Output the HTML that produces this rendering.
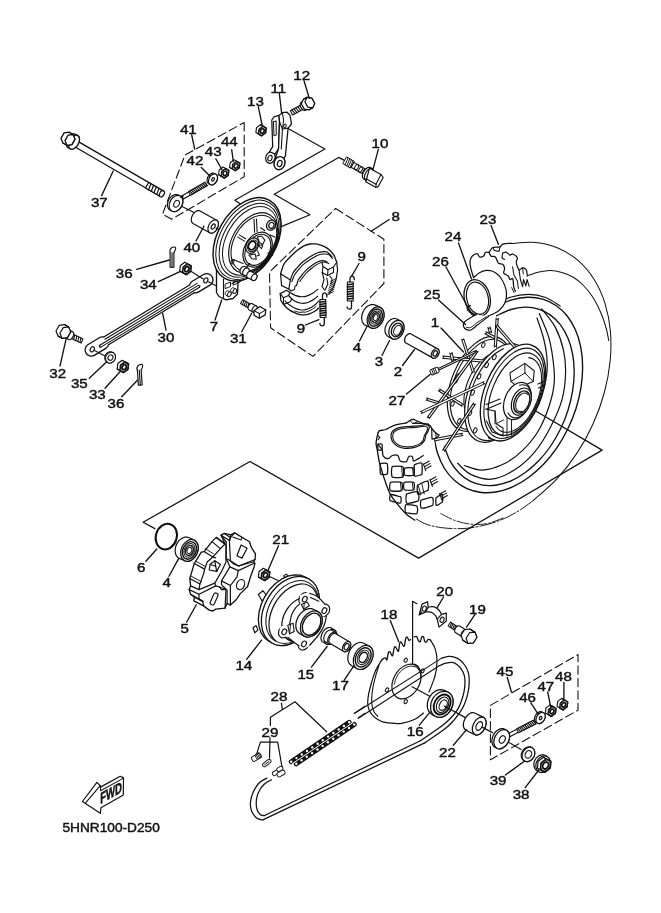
<!DOCTYPE html>
<html><head><meta charset="utf-8"><title>Rear wheel</title>
<style>html,body{margin:0;padding:0;background:#fff}body{width:661px;height:913px;overflow:hidden}svg{display:block}svg{will-change:transform}text{font-family:"Liberation Sans",sans-serif;fill:#111;stroke:#111;stroke-width:.42px}</style>
</head><body>
<svg width="661" height="913" viewBox="0 0 661 913" fill="none" stroke="#111" stroke-width="1.35" stroke-linecap="round" stroke-linejoin="round">
<path d="M244.2 122.5L244.2 176.7L171.7 219.2L162.5 214.2L185 155Z" stroke-width="1.08" stroke-dasharray="8.5 4"/>
<path d="M335.6 208.5L383.9 239.2L383.9 283.5L313 356.4L270.6 327.8L269.5 272Z" stroke-width="1.08" stroke-dasharray="8.5 4"/>
<path d="M490.4 705.4L578 654.5L578 710.2L490.4 759.8Z" stroke-width="1.08" stroke-dasharray="8.5 4"/>
<path d="M534 410L602.1 450.1L418.6 558.1L250 461.5L143.1 522.3L154.9 528.6" stroke-width="1.26"/>
<path d="M510.4 243.6C514.6 243.4 527.4 241.6 535.4 242.4C543.4 243.2 551.3 245.1 558.4 248.2C565.5 251.2 572.3 255.5 578.3 260.7C584.2 265.9 589.6 272.3 594 279.3C598.5 286.4 602.2 294.5 604.9 303.1C607.6 311.8 609.5 321.3 610.4 331C611.2 340.7 611.2 351.1 610.1 361.4C609.1 371.8 607.1 382.6 604.2 393C601.4 403.5 597.5 414.1 592.9 424.2C588.4 434.3 582.9 444.3 576.8 453.4C570.8 462.6 563.9 471.4 556.6 479.2C549.4 487.1 537.3 496.9 533.4 500.4" stroke-width="1.02"/>
<path d="M533.4 500.4C531.4 501.8 525.6 506.4 521.5 509C517.4 511.6 513.2 514.1 508.9 516.3C504.6 518.5 500 520.4 495.5 522C491 523.6 486.3 524.8 481.7 525.8C477.1 526.8 472.5 527.7 468 528.2C463.5 528.7 459.1 528.7 454.5 528.6C449.9 528.5 445.1 528.2 440.5 527.5C435.9 526.8 431.4 526 427.2 524.5C423 523 419.1 520.8 415.5 518.5C411.9 516.2 407.1 512.1 405.4 510.8" stroke-width="0.96" stroke-dasharray="16 2 2 2"/>
<path d="M440.8 513.6C443.2 514.8 450 518.7 455 520.5C460 522.3 465.7 523.7 471 524.2C476.3 524.7 481.7 524.6 487 523.6C492.3 522.6 500.3 518.9 503 518" stroke-width="0.90" stroke-dasharray="12 2 2 2"/>
<path d="M528 275.5C529.8 274.9 535.2 272.9 539 272C542.8 271.1 546.8 270.3 550.6 270.4C554.4 270.5 558.2 271.4 562 272.5C565.8 273.6 569.8 275.1 573.3 277.2C576.8 279.3 580 282 583 285C586 288 589 291.7 591.5 295.3C594 298.9 596.1 302.7 598 306.5C599.9 310.3 601.5 314.2 602.9 318C604.3 321.8 605.5 325.7 606.5 329.5C607.5 333.3 608.4 338.8 608.8 340.7" stroke-width="1.02"/>
<path d="M480.2 317.9C482.8 316.1 490.5 309.9 495.8 306.8C501 303.8 506.5 301.4 511.8 299.8C517.2 298.2 522.6 297.3 527.7 297.2C532.9 297.1 538 297.8 542.7 299.1C547.4 300.5 552 302.7 556 305.5C560.1 308.3 563.9 311.9 567.2 316C570.4 320.1 573.3 324.9 575.5 330.1C577.8 335.3 579.6 341.2 580.8 347.3C582 353.3 582.6 359.9 582.6 366.6C582.7 373.3 582.1 380.3 581 387.3C579.9 394.2 578.2 401.4 576.1 408.3C573.9 415.2 571.1 422.2 567.9 428.7C564.7 435.3 561 441.7 557 447.6C553 453.5 548.5 459.1 543.8 464C539.1 468.9 534 473.4 528.9 477.2C523.8 481 518.4 484.2 513.1 486.6C507.7 489.1 502.3 490.8 497 491.8C491.7 492.8 486.4 493 481.4 492.5C476.4 492 471.5 490.7 467 488.7C462.6 486.7 458.3 483.9 454.6 480.6C450.8 477.2 447.4 473.1 444.5 468.5C441.7 463.9 439.3 458.6 437.5 453C435.6 447.3 434.3 437.8 433.6 434.8" stroke-width="1.38"/>
<path d="M496.5 315.8C498.9 314.8 506.1 310.9 510.9 309.5C515.7 308 520.5 307.3 525.1 307.2C529.8 307.1 534.3 307.8 538.6 309.1C542.8 310.4 546.9 312.5 550.5 315.1C554.2 317.8 557.6 321.1 560.5 324.9C563.4 328.8 565.9 333.3 567.9 338.1C570 342.9 571.5 348.4 572.6 354C573.6 359.6 574.2 365.7 574.2 371.9C574.2 378 573.6 384.5 572.6 390.9C571.6 397.3 570 403.9 568 410.2C566 416.5 563.5 422.9 560.6 428.8C557.7 434.8 554.3 440.7 550.7 446C547 451.3 543 456.3 538.7 460.8C534.5 465.2 529.9 469.2 525.3 472.5C520.7 475.9 515.9 478.7 511.1 480.8C506.3 482.8 501.4 484.3 496.7 485C492 485.7 487.2 485.8 482.8 485.1C478.3 484.5 474 483.1 470 481.1C466.1 479.1 462.3 476.3 459 473C455.8 469.8 452.8 465.8 450.3 461.4C447.9 457.1 445.3 449.2 444.3 446.8" stroke-width="1.32"/>
<path d="M541.6 308.9C543.9 311.9 551.6 320.3 555.2 327.1C558.8 333.9 561.7 342.2 563.4 349.8C565.1 357.4 565.8 364.2 565.6 372.5C565.4 380.8 564.5 390.6 562 399.7C559.5 408.8 555.1 418.3 550.6 427C546.1 435.7 540.8 444.7 534.8 451.9C528.8 459.1 521.5 465.6 514.3 470.1C507.1 474.7 498.8 478.4 491.6 479.2C484.4 479.9 476.9 477.2 471.2 474.6C465.5 472 459.9 465.2 457.6 463.3" stroke-width="1.20"/>
<path d="M539.3 313.5C540.8 317.3 546.1 328.6 548.4 336.2C550.7 343.8 551.9 351.3 552.9 358.9C553.9 366.5 554.8 374 554.3 381.6C553.8 389.2 552.2 396.4 549.7 404.3C547.2 412.2 543.7 421.6 539.3 429.2C534.9 436.8 529.1 444 523.4 449.7C517.7 455.4 512 459.9 505.2 463.3C498.4 466.7 489.4 469.7 482.6 470.1C475.8 470.5 467.4 466.3 464.4 465.5" stroke-width="1.20"/>
<path d="M537 318C538.1 321.3 541.9 331.7 543.5 338C545.1 344.3 546.2 350.3 546.8 356C547.4 361.7 547.5 366.7 547 372C546.5 377.3 544.5 385.3 544 388" stroke-width="1.20"/>
<path d="M474.2 319.8C477.2 317.5 485.8 309.7 491.8 306C497.8 302.2 504.2 299.3 510.3 297.3C516.4 295.4 522.7 294.4 528.6 294.4C534.5 294.4 540.4 295.5 545.7 297.4C551 299.4 558 304.7 560.4 306.1" stroke-width="1.08"/>
<ellipse cx="479.4" cy="383.8" rx="50" ry="27.8" transform="rotate(-67.4 479.4 383.8)" stroke-width="1.20" fill="#fff"/>
<ellipse cx="480.6" cy="384.3" rx="47.5" ry="26.4" transform="rotate(-67.4 480.6 384.3)" stroke-width="1.08"/>
<ellipse cx="468.4" cy="424.7" rx="2.6" ry="1.5" transform="rotate(-67.4 468.4 424.7)" stroke-width="0.96"/>
<ellipse cx="459.3" cy="420.9" rx="2.6" ry="1.5" transform="rotate(-67.4 459.3 420.9)" stroke-width="0.96"/>
<ellipse cx="452.6" cy="403.7" rx="2.6" ry="1.5" transform="rotate(-67.4 452.6 403.7)" stroke-width="0.96"/>
<ellipse cx="455.9" cy="380.4" rx="2.6" ry="1.5" transform="rotate(-67.4 455.9 380.4)" stroke-width="0.96"/>
<ellipse cx="483.3" cy="345" rx="2.6" ry="1.5" transform="rotate(-67.4 483.3 345)" stroke-width="0.96"/>
<ellipse cx="456.6" cy="378.3" rx="5.5" ry="1.5" transform="rotate(-60 456.6 378.3)" stroke-width="0.96"/>
<ellipse cx="487" cy="387.5" rx="36" ry="20" transform="rotate(-67.4 487 387.5)" stroke-width="1.08" fill="#fff"/>
<path d="M461.7 339.3L472.5 372.9A1.1 1.1 0 0 1 474.5 372.3L463.7 338.7A1.1 1.1 0 0 1 461.7 339.3Z" fill="#fff" stroke-width="1.02"/>
<path d="M442.6 358.3L498.9 363.7A1.1 1.1 0 0 1 499.1 361.5L442.8 356.1A1.1 1.1 0 0 1 442.6 358.3Z" fill="#fff" stroke-width="1.02"/>
<path d="M449.8 353L451.8 361.3A1.1 1.1 0 0 1 454 360.7L452 352.4A1.1 1.1 0 0 1 449.8 353Z" fill="#fff" stroke-width="1.02"/>
<path d="M438.4 390.8L462.1 406.2A1.1 1.1 0 0 1 463.3 404.4L439.6 389A1.1 1.1 0 0 1 438.4 390.8Z" fill="#fff" stroke-width="1.02"/>
<path d="M426 400.1L440.6 404.6A1.1 1.1 0 0 1 441.2 402.4L426.6 397.9A1.1 1.1 0 0 1 426 400.1Z" fill="#fff" stroke-width="1.02"/>
<path d="M429.1 418.6L478.1 351.4A1.1 1.1 0 0 1 476.3 350.2L427.3 417.4A1.1 1.1 0 0 1 429.1 418.6Z" fill="#fff" stroke-width="1.02"/>
<path d="M484.8 333.7L496.7 340A1.1 1.1 0 0 1 497.7 338L485.8 331.7A1.1 1.1 0 0 1 484.8 333.7Z" fill="#fff" stroke-width="1.02"/>
<path d="M487.9 327.5L489.5 333.3A1.1 1.1 0 0 1 491.7 332.7L490.1 326.9A1.1 1.1 0 0 1 487.9 327.5Z" fill="#fff" stroke-width="1.02"/>
<path d="M496.1 318.1L494.2 347.1A1.1 1.1 0 0 1 496.4 347.3L498.3 318.3A1.1 1.1 0 0 1 496.1 318.1Z" fill="#fff" stroke-width="1.02"/>
<path d="M433.8 440.9L462.9 435.5A1.1 1.1 0 0 1 462.5 433.3L433.4 438.7A1.1 1.1 0 0 1 433.8 440.9Z" fill="#fff" stroke-width="1.02"/>
<ellipse cx="498" cy="393" rx="52" ry="28.9" transform="rotate(-67.4 498 393)" stroke-width="1.20" fill="#fff"/>
<path d="M531 379.9C530.7 381.5 530.2 386.4 529.5 389.7C528.7 393.1 527.7 396.5 526.6 399.8C525.4 403.1 524 406.4 522.4 409.5C520.9 412.6 519.1 415.7 517.2 418.5C515.4 421.3 513.3 424 511.3 426.4C509.2 428.8 506.9 430.9 504.7 432.8C502.5 434.6 500.2 436.2 498 437.4C495.7 438.6 493.4 439.4 491.3 439.9C489.1 440.5 486.9 440.6 484.9 440.4C483 440.2 481 439.6 479.3 438.7C477.6 437.8 475.9 436.6 474.6 435C473.2 433.4 471.9 431.5 471 429.4C470 427.2 469.2 424.8 468.7 422.1C468.2 419.5 467.9 416.6 467.8 413.6C467.8 410.5 467.9 407.3 468.4 404.1C468.8 400.8 469.5 397.4 470.4 394.1C471.3 390.8 472.4 387.4 473.7 384.1C475 380.9 476.5 377.6 478.2 374.6C479.9 371.5 481.7 368.6 483.7 365.9C485.6 363.2 487.7 360.7 489.9 358.5C492 356.3 494.3 354.3 496.5 352.7C498.8 351.1 502.2 349.4 503.3 348.7" stroke-width="1.08"/>
<ellipse cx="490.5" cy="436.2" rx="2.7" ry="1.6" transform="rotate(-67.4 490.5 436.2)" stroke-width="0.96"/>
<ellipse cx="475.2" cy="430.4" rx="2.7" ry="1.6" transform="rotate(-67.4 475.2 430.4)" stroke-width="0.96"/>
<ellipse cx="469.9" cy="413" rx="2.7" ry="1.6" transform="rotate(-67.4 469.9 413)" stroke-width="0.96"/>
<ellipse cx="472.6" cy="392.6" rx="2.7" ry="1.6" transform="rotate(-67.4 472.6 392.6)" stroke-width="0.96"/>
<ellipse cx="479.1" cy="376.5" rx="2.7" ry="1.6" transform="rotate(-67.4 479.1 376.5)" stroke-width="0.96"/>
<ellipse cx="486.6" cy="365.1" rx="2.7" ry="1.6" transform="rotate(-67.4 486.6 365.1)" stroke-width="0.96"/>
<ellipse cx="494.4" cy="357.2" rx="2.7" ry="1.6" transform="rotate(-67.4 494.4 357.2)" stroke-width="0.96"/>
<path d="M421.4 413.6L484.9 383.6A1.1 1.1 0 0 1 483.9 381.6L420.4 411.6A1.1 1.1 0 0 1 421.4 413.6Z" fill="#fff" stroke-width="1.02"/>
<path d="M444.5 451.3L475.4 404.1A1.1 1.1 0 0 1 473.6 402.9L442.7 450.1A1.1 1.1 0 0 1 444.5 451.3Z" fill="#fff" stroke-width="1.02"/>
<path d="M495.4 326.1L518.1 352.4A1.1 1.1 0 0 1 519.7 351L497 324.7A1.1 1.1 0 0 1 495.4 326.1Z" fill="#fff" stroke-width="1.02"/>
<path d="M436.4 371.3L475.8 352.5A0.9 0.9 0 0 1 475 350.9L435.6 369.7A0.9 0.9 0 0 1 436.4 371.3Z" fill="#fff" stroke-width="1.02"/>
<ellipse cx="513" cy="392.6" rx="51" ry="28.3" transform="rotate(-67.4 513 392.6)" stroke-width="1.32" fill="#fff"/>
<ellipse cx="514.2" cy="393.3" rx="47.6" ry="26.2" transform="rotate(-67.4 514.2 393.3)" stroke-width="1.08"/>
<ellipse cx="515.6" cy="394.2" rx="43.5" ry="23.6" transform="rotate(-67.4 515.6 394.2)" stroke-width="1.20"/>
<path d="M528.6 357.7C529.3 357.9 531.6 358.2 533 358.9C534.3 359.6 535.5 360.6 536.6 361.8C537.7 363 538.6 364.5 539.3 366.2C540.1 367.9 540.7 369.9 541 371.9C541.4 374 541.6 376.4 541.6 378.8C541.6 381.2 541.4 383.8 541.1 386.3C540.7 388.9 540.1 391.7 539.4 394.3C538.7 397 537.7 399.7 536.7 402.3C535.6 404.9 534.4 407.5 533.1 410C531.7 412.4 530.3 414.8 528.7 417C527.2 419.1 525.5 421.1 523.8 422.9C522.1 424.7 520.3 426.3 518.6 427.6C516.8 428.9 515 430 513.3 430.7C511.6 431.5 509.8 432 508.2 432.2C506.5 432.4 504.9 432.4 503.5 432C502 431.6 500.6 431 499.4 430.1C498.1 429.2 496.6 427.1 496.1 426.5" stroke-width="1.08"/>
<path d="M509.9 373L524.7 363.4L534.3 370.8L533.2 381.4L518.4 387.8L511 381.4Z" stroke-width="1.08"/>
<path d="M524.7 363.4L525 373" stroke-width="0.96"/>
<path d="M525 373L533.2 381.4" stroke-width="0.96"/>
<path d="M525 373L511 381.4" stroke-width="0.96"/>
<path d="M485.5 409L495 411L496.1 423.8L503 428L503 436L492 432L486.5 421" stroke-width="1.08"/>
<path d="M495 411L495 423.8" stroke-width="0.96"/>
<path d="M507 418L507 436" stroke-width="0.96"/>
<path d="M511.5 420.5L511.5 435" stroke-width="0.96"/>
<path d="M496.1 423.8L503.5 420" stroke-width="0.96"/>
<path d="M538 384L546 380.5" stroke-width="1.08"/>
<path d="M538.5 388L545 385.5" stroke-width="1.08"/>
<path d="M500 399L486 404.5" stroke-width="1.08"/>
<path d="M501 403L487 409" stroke-width="1.08"/>
<ellipse cx="517.3" cy="401" rx="19.5" ry="12.6" transform="rotate(-67.4 517.3 401)" stroke-width="1.20" fill="#fff"/>
<path d="M519.6 385.3C520 385.2 521.3 384.8 522.1 384.8C523 384.7 523.8 384.8 524.5 385C525.3 385.1 526 385.5 526.7 385.9C527.4 386.3 528 386.8 528.5 387.4C529.1 388.1 529.5 388.8 529.9 389.6C530.3 390.4 530.6 391.3 530.9 392.3C531.1 393.3 531.2 394.3 531.3 395.4C531.3 396.5 531.3 397.6 531.2 398.7C531 399.9 530.8 401 530.5 402.2C530.2 403.3 529.8 404.5 529.3 405.6C528.9 406.7 528.3 407.8 527.7 408.8C527.1 409.9 526.5 410.8 525.7 411.7C525 412.6 524.3 413.4 523.5 414.2C522.7 414.9 521.8 415.5 521 416C520.1 416.6 519.3 417 518.4 417.3C517.6 417.6 516.7 417.8 515.9 417.8C515 417.9 514.2 417.8 513.5 417.6C512.7 417.5 512 417.1 511.3 416.7C510.6 416.3 510 415.8 509.5 415.2C508.9 414.5 508.3 413.3 508.1 413" stroke-width="1.08"/>
<ellipse cx="521.3" cy="401.6" rx="14.2" ry="9.2" transform="rotate(-67.4 521.3 401.6)" stroke-width="1.20" fill="#fff"/>
<ellipse cx="521.8" cy="402" rx="11.6" ry="7.4" transform="rotate(-67.4 521.8 402)" stroke-width="1.44"/>
<path d="M521.9 411.3C521.7 411.3 521 411.6 520.5 411.6C520.1 411.7 519.6 411.6 519.2 411.5C518.8 411.4 518.4 411.3 518 411C517.7 410.8 517.4 410.5 517.1 410.2C516.8 409.8 516.5 409.4 516.3 408.9C516.1 408.5 516 407.9 515.9 407.4C515.8 406.8 515.7 406.3 515.7 405.6C515.7 405 515.7 404.4 515.8 403.7C515.9 403.1 516.1 402.4 516.2 401.8C516.4 401.1 516.7 400.5 516.9 399.8C517.2 399.2 517.5 398.6 517.9 398C518.2 397.4 518.6 396.9 519 396.4C519.4 395.9 519.8 395.4 520.3 395C520.7 394.6 521.2 394.2 521.7 393.9C522.1 393.6 522.6 393.4 523.1 393.2C523.5 393.1 524 393 524.5 393C524.9 392.9 525.3 393 525.7 393.1C526.2 393.2 526.5 393.4 526.9 393.7C527.2 393.9 527.7 394.4 527.8 394.6" stroke-width="1.08"/>
<path d="M473.6 277.7C473.1 276.1 471.5 271.3 470.9 268.6C470.3 265.8 469.8 263.4 470 261.3C470.2 259.3 470.9 257.5 472.1 256.2C473.4 255 476 253.6 477.2 253.7C478.4 253.8 478.4 256.6 479.4 257C480.5 257.3 482.6 256.7 483.6 255.9C484.6 255.1 484.7 252.8 485.6 252.2C486.5 251.6 487.8 253 489 252.2C490.2 251.4 491 248.4 492.8 247.5C494.7 246.6 498.2 247.4 499.9 246.8C501.6 246.2 501.2 244.5 503 243.9C504.8 243.3 509.5 243.3 510.8 243.2" stroke-width="1.26"/>
<path d="M489 252.2C489.4 252.9 490 255.4 491 256.2C492.1 257 494.2 255.8 495.4 257C496.6 258.1 497.1 261.9 498.3 263.1C499.5 264.3 501.6 263.3 502.7 264.2C503.7 265.1 504.5 267.1 504.6 268.6C504.8 270.1 503.2 271.9 503.7 273.1C504.3 274.3 507 274.8 508.1 275.8C509.2 276.9 509.3 279 510.1 279.5C510.9 280 512.2 277.5 512.8 278.7C513.4 280 513.3 284.6 513.7 286.7C514.1 288.8 515.1 290.7 515.4 291.4" stroke-width="1.26"/>
<path d="M492.8 247.5L494.3 250.4L499 251.5L499.9 246.8" stroke-width="1.08"/>
<path d="M502.7 253.1C503.3 253 505.1 251.9 506.3 252.2C507.5 252.6 508.8 254.8 509.9 255.1C511 255.4 511.6 253.6 512.8 254C514.1 254.5 516.8 256.5 517.4 257.9C517.9 259.3 516 260.4 516.3 262.4C516.5 264.4 517.9 268.8 519 269.7C520 270.6 521.4 267.8 522.6 267.8C523.8 267.8 525.5 268.3 526.3 269.7C527 271.1 527.2 275.1 527.3 276.2" stroke-width="1.20"/>
<path d="M502.7 253.1L501.9 257.7L504.5 259.5" stroke-width="1.08"/>
<path d="M519 269.7L520.4 279.5L522.6 286.7L523.5 279.5L525.9 286L527 279.5L529.2 286.4" stroke-width="1.08"/>
<path d="M512.6 266.8L513.9 274.9L517.5 281.3L518.3 288.5" stroke-width="1.02"/>
<path d="M522.6 267.8L523.3 274" stroke-width="0.96"/>
<path d="M511.7 287.6L513.9 292.5" stroke-width="0.96"/>
<path d="M473.6 277.6L479.5 272.8L486.3 270.4L492 271L497.2 274L501.5 279L504.5 284.9L506.3 291L506.3 297.6L505 302.5L502.6 306.7L499 310.5L494 313.5L488 316L480 316Z" fill="#fff" stroke="none"/>
<path d="M473.6 277.6C474.6 276.8 477.4 274 479.5 272.8C481.6 271.6 484.2 270.7 486.3 270.4C488.4 270.1 490.2 270.4 492 271C493.8 271.6 495.6 272.7 497.2 274C498.8 275.3 500.3 277.2 501.5 279C502.7 280.8 503.7 282.9 504.5 284.9C505.3 286.9 506 288.9 506.3 291C506.6 293.1 506.5 295.7 506.3 297.6C506.1 299.5 505.6 301 505 302.5C504.4 304 503.6 305.4 502.6 306.7C501.6 308 500.4 309.4 499 310.5C497.6 311.6 495.8 312.6 494 313.5C492.2 314.4 489 315.6 488 316" stroke-width="1.20"/>
<ellipse cx="477.2" cy="298" rx="12.8" ry="18.6" transform="rotate(-14 477.2 298)" stroke-width="1.26" fill="#fff"/>
<ellipse cx="477.5" cy="298.2" rx="10.7" ry="16.4" transform="rotate(-14 477.5 298.2)" stroke-width="1.20"/>
<path d="M470.5 305.5C470 305.8 468.1 306.2 467.6 307C467.2 307.8 467.2 309.6 467.8 310.5C468.4 311.4 470.1 311.8 471.5 312.5C472.9 313.2 474.4 314.2 476 315C477.6 315.8 480.2 317.1 481 317.5" stroke-width="1.20"/>
<path d="M469.5 312C470.1 312.6 471.5 314.4 473 315.5C474.5 316.6 477.6 318 478.5 318.5" stroke-width="1.08"/>
<path d="M488.5 316.5C486.8 317.8 480.8 322.3 478 324.5C475.2 326.7 473.4 328.9 471.5 329.8C469.6 330.7 467.9 330.2 466.5 329.6C465.1 329 463.7 327.3 463.4 326C463.1 324.7 463.4 323.3 464.5 322C465.6 320.7 468 319.2 470 318C472 316.8 475.4 315.1 476.5 314.5" stroke-width="1.20" fill="#fff"/>
<path d="M466.2 327.4C467 327.4 468.8 328.3 470.8 327.4C472.8 326.5 475.4 323.8 478 322C480.6 320.2 485.1 317.7 486.5 316.8" stroke-width="0.96"/>
<path d="M377.9 433.2L379.7 430.7L385.7 429.5L394.2 425.3L406.3 422.9L409.9 420.4L413.6 419.2L418.4 421.7L423.3 423.5L428.1 424.1L431.7 428.3L436 433.2L439.2 435L436 438.2L434.1 439.2L435.4 451.3L440.8 465.8L448.7 477.9L442.6 492.5L428.1 507L414.8 520.1L406.3 514.2L397.8 504.6L390.6 494.9L385.7 482.8L382.1 471.9L379.1 461L377.3 450.1L376.1 442.8Z" fill="#fff" stroke="none"/>
<path d="M377.9 433.2C378.2 432.8 378.4 431.3 379.7 430.7C381 430.1 383.3 430.4 385.7 429.5C388.2 428.6 390.8 426.4 394.2 425.3C397.6 424.2 404.3 423.3 406.3 422.9" stroke-width="1.32"/>
<path d="M406.3 422.9L409.9 420.4L413.6 419.2L418.4 421.7L423.3 423.5L428.1 424.1" stroke-width="1.26"/>
<path d="M428.1 424.1C428.5 424.4 429.7 425.2 430.3 425.9C430.9 426.6 431.1 427.5 431.7 428.3C432.3 429.2 433.2 430.2 433.9 431C434.6 431.8 435.6 432.8 436 433.2" stroke-width="1.32"/>
<path d="M436 433.2L439.2 435L436 438.2L432 439.2L431.7 428.3" stroke-width="1.20"/>
<path d="M436 433.2L436 438.2" stroke-width="1.08"/>
<path d="M409.9 420.4L412.6 423.5L418.4 421.7" stroke-width="0.96"/>
<path d="M412.6 423.5L423.3 423.5" stroke-width="0.96"/>
<path d="M391.2 434.4C391.5 433.2 391.7 431.8 393 430.7C394.3 429.6 396.4 428.4 399 427.7C401.7 427 405.5 426.8 408.7 426.5C412 426.2 415.6 426.2 418.4 425.9C421.2 425.6 423.9 424.6 425.7 424.7C427.5 424.8 428.9 425.5 429.3 426.5C429.7 427.5 428.9 429.3 428.3 430.7C427.8 432.1 426.6 433.4 425.9 435C425.3 436.6 425.3 438.8 424.5 440.4C423.6 442 422.6 443.4 420.8 444.7C419 445.9 416.2 447.1 413.6 447.7C410.9 448.3 407.7 448.5 405.1 448.3C402.5 448.1 399.9 447.5 397.8 446.5C395.8 445.5 394.1 443.6 393 442.2C391.9 440.8 391.5 439.3 391.2 438C390.9 436.7 390.9 435.6 391.2 434.4Z" stroke-width="1.20"/>
<path d="M392.9 434.7C393.1 433.6 393.3 432.5 394.5 431.5C395.7 430.6 397.6 429.5 400 428.9C402.4 428.3 405.9 428.1 408.8 427.8C411.8 427.6 415.1 427.6 417.6 427.3C420.2 427 422.6 426.2 424.3 426.3C425.9 426.3 427.2 427 427.6 427.8C428 428.7 427.2 430.3 426.7 431.5C426.2 432.7 425.1 433.8 424.5 435.2C423.9 436.6 423.9 438.5 423.2 439.9C422.4 441.3 421.5 442.6 419.9 443.6C418.2 444.7 415.6 445.7 413.2 446.3C410.9 446.8 407.9 447 405.5 446.8C403.1 446.6 400.8 446.1 398.9 445.2C397.1 444.3 395.5 442.8 394.5 441.5C393.5 440.3 393.1 439 392.9 437.8C392.6 436.7 392.6 435.7 392.9 434.7Z" stroke-width="1.08"/>
<path d="M377.9 444C378.6 445.1 381.2 448.1 382.1 450.1C383 452.1 382.3 454.7 383.3 456.1C384.3 457.6 386.6 458.7 388.2 458.6C389.7 458.5 390.8 456 392.4 455.5C394 455 396.5 454.6 397.8 455.5C399.1 456.5 398.8 460 400.3 461C401.7 462 404.9 462.3 406.3 461.6C407.7 460.9 407.7 457.6 408.7 456.8C409.7 455.9 411.6 456 412.4 456.8C413.2 457.5 412.6 460.7 413.6 461C414.6 461.3 416.8 459.5 418.4 458.6C420 457.7 422.4 456 423.3 455.5" stroke-width="1.26"/>
<path d="M377.9 433.2C377.6 434.8 376.2 440 376.1 442.8C376 445.7 376.8 447.1 377.3 450.1C377.8 453.1 378.3 457.4 379.1 461C379.9 464.6 381 468.3 382.1 471.9C383.2 475.5 384.3 478.9 385.7 482.8C387.1 486.6 388.6 491.2 390.6 494.9C392.6 498.5 395.2 501.3 397.8 504.6C400.5 507.8 403.5 511.7 406.3 514.2C409.1 516.8 413.4 519.1 414.8 520.1" stroke-width="1.32"/>
<path d="M377.9 435.6L379.9 437.5L377.9 439.8" stroke-width="1.08"/>
<path d="M378.5 444C379.1 443.9 380.9 443.9 381.5 444C382.1 444.2 382 444 382.1 444.9C382.2 445.8 382.2 448.4 382.1 449.3C382 450.1 382.1 450 381.5 450.1C380.9 450.2 379.1 450.2 378.5 450.1C377.9 450 378 450.1 377.9 449.3C377.8 448.4 377.8 445.8 377.9 444.9C378 444 377.9 444.2 378.5 444Z" stroke-width="1.26"/>
<path d="M381.3 463.4C382.3 463.2 385.5 463.2 386.5 463.4C387.6 463.7 387.4 463.4 387.5 464.9C387.7 466.5 387.7 471.2 387.5 472.8C387.4 474.3 387.6 474 386.5 474.3C385.5 474.6 382.3 474.6 381.3 474.3C380.3 474 380.5 474.3 380.3 472.8C380.1 471.2 380.1 466.5 380.3 464.9C380.5 463.4 380.3 463.7 381.3 463.4Z" stroke-width="1.26"/>
<path d="M391.5 494.5C393.1 494.7 397.8 496 399.3 496.5C400.9 496.9 400.6 496.4 400.9 497.4C401.1 498.3 401.1 501.2 400.9 502.2C400.6 503.1 400.9 503.3 399.3 503.1C397.8 502.9 393.1 501.7 391.5 501.2C389.9 500.7 390.2 501.2 390 500.2C389.7 499.3 389.7 496.4 390 495.4C390.2 494.5 389.9 494.3 391.5 494.5Z" stroke-width="1.26"/>
<path d="M393.4 466.4C395 466.2 400 466.2 401.7 466.4C403.3 466.7 403 466.4 403.3 468C403.6 469.5 403.6 474.2 403.3 475.8C403 477.4 403.3 477.1 401.7 477.3C400 477.6 395 477.6 393.4 477.3C391.7 477.1 392.1 477.4 391.8 475.8C391.5 474.2 391.5 469.5 391.8 468C392.1 466.4 391.7 466.7 393.4 466.4Z" stroke-width="1.26"/>
<path d="M405.8 467.9C407.2 467.7 411.4 467.7 412.8 467.9C414.2 468.1 413.9 467.9 414.2 469C414.4 470 414.4 473.4 414.2 474.4C413.9 475.5 414.2 475.3 412.8 475.5C411.4 475.7 407.2 475.7 405.8 475.5C404.5 475.3 404.7 475.5 404.5 474.4C404.3 473.4 404.3 470 404.5 469C404.7 467.9 404.5 468.1 405.8 467.9Z" stroke-width="1.26"/>
<path d="M415.3 464.4C416.4 463.9 419.8 462.9 420.9 462.9C422.1 463 421.9 462.9 422 464.6C422.2 466.3 422.2 471.4 422 473.1C421.9 474.8 422.1 474.3 420.9 474.8C419.8 475.3 416.4 476.3 415.3 476.2C414.1 476.2 414.4 476.3 414.2 474.6C414 472.9 414 467.7 414.2 466C414.4 464.3 414.1 464.9 415.3 464.4Z" stroke-width="1.26"/>
<path d="M391.7 482.2C393.4 482 398.6 482 400.4 482.2C402.1 482.4 401.8 482.1 402.1 483.4C402.4 484.7 402.4 488.5 402.1 489.8C401.8 491 402.1 490.8 400.4 491C398.6 491.2 393.4 491.2 391.7 491C389.9 490.8 390.3 491 390 489.8C389.7 488.5 389.7 484.7 390 483.4C390.3 482.1 389.9 482.4 391.7 482.2Z" stroke-width="1.26"/>
<path d="M405.3 482.2C406.8 482 411.3 482 412.7 482.2C414.2 482.4 413.9 482.1 414.2 483.3C414.4 484.4 414.4 487.8 414.2 488.9C413.9 490.1 414.2 489.9 412.7 490C411.3 490.2 406.8 490.2 405.3 490C403.9 489.9 404.1 490.1 403.9 488.9C403.6 487.8 403.6 484.4 403.9 483.3C404.1 482.1 403.9 482.4 405.3 482.2Z" stroke-width="1.26"/>
<path d="M419 484.5C420.5 483.7 425.2 481.4 426.8 481.1C428.4 480.7 428.1 481 428.3 482.4C428.6 483.8 428.6 488 428.3 489.4C428.1 490.8 428.4 490 426.8 490.8C425.2 491.6 420.5 493.8 419 494.2C417.4 494.5 417.7 494.2 417.4 492.8C417.2 491.4 417.2 487.2 417.4 485.8C417.7 484.4 417.4 485.3 419 484.5Z" stroke-width="1.26"/>
<path d="M408 493.7C409.8 493.1 415.2 491.8 416.9 491.7C418.7 491.6 418.4 491.7 418.7 493.1C418.9 494.5 418.9 498.7 418.7 500.1C418.4 501.4 418.7 500.9 416.9 501.4C415.2 502 409.8 503.3 408 503.4C406.3 503.4 406.6 503.4 406.3 502C406 500.6 406 496.4 406.3 495C406.6 493.6 406.3 494.2 408 493.7Z" stroke-width="1.26"/>
<path d="M422.5 499.7C424.3 499.1 429.5 497.5 431.2 497.3C433 497.1 432.7 497.3 432.9 498.5C433.2 499.7 433.2 503.4 432.9 504.6C432.7 505.8 433 505.2 431.2 505.8C429.5 506.4 424.3 508 422.5 508.2C420.8 508.4 421.1 508.2 420.8 507C420.5 505.8 420.5 502.1 420.8 500.9C421.1 499.7 420.8 500.3 422.5 499.7Z" stroke-width="1.26"/>
<path d="M407 504.7C408.7 504.7 413.8 505.3 415.5 505.7C417.2 506 416.9 505.6 417.2 506.8C417.5 507.9 417.5 511.5 417.2 512.6C416.9 513.8 417.2 513.7 415.5 513.8C413.8 513.8 408.7 513.1 407 512.8C405.3 512.4 405.6 512.8 405.3 511.7C405.1 510.5 405.1 507 405.3 505.8C405.6 504.7 405.3 504.7 407 504.7Z" stroke-width="1.26"/>
<path d="M436.9 497.3C437.8 496.6 440.7 494.7 441.7 494.4C442.6 494.1 442.5 494.4 442.6 495.5C442.8 496.7 442.8 500.2 442.6 501.4C442.5 502.5 442.6 501.8 441.7 502.5C440.7 503.2 437.8 505.1 436.9 505.4C435.9 505.7 436.1 505.4 436 504.3C435.8 503.1 435.8 499.6 436 498.4C436.1 497.3 435.9 498 436.9 497.3Z" stroke-width="1.26"/>
<path d="M401.7 467.3L402.4 477" stroke-width="0.96"/>
<path d="M412.6 468.3L413.3 475.3" stroke-width="0.96"/>
<path d="M400.5 482.8L401.2 490.3" stroke-width="0.96"/>
<path d="M412.4 482.8L413.1 489.6" stroke-width="0.96"/>
<path d="M418.4 485.8L420.8 494.9" stroke-width="0.96"/>
<path d="M422 484.6L424.2 493.9" stroke-width="0.96"/>
<path d="M423.3 463.8L425.8 470.8" stroke-width="1.02"/>
<path d="M423.6 464.3L429.3 461" stroke-width="1.02"/>
<path d="M424.5 466.7L430.2 463.4" stroke-width="1.02"/>
<path d="M425.4 469.1L431.1 465.8" stroke-width="1.02"/>
<path d="M429.9 479.5L432.4 486.5" stroke-width="1.02"/>
<path d="M430.2 480L435.9 476.7" stroke-width="1.02"/>
<path d="M431.1 482.4L436.8 479.1" stroke-width="1.02"/>
<path d="M432 484.8L437.7 481.5" stroke-width="1.02"/>
<path d="M439.6 493.5L442.1 500.5" stroke-width="1.02"/>
<path d="M439.9 494L445.6 490.7" stroke-width="1.02"/>
<path d="M440.8 496.4L446.5 493.1" stroke-width="1.02"/>
<path d="M441.7 498.8L447.4 495.5" stroke-width="1.02"/>
<path d="M70 144L160 196.3L163.2 190.9L73.2 138.6Z" stroke-width="1.32" fill="#fff"/>
<path d="M145.5 187.9L160 196.3L163.2 190.9L148.7 182.5Z" stroke-width="1.20" fill="#fff"/>
<path d="M148.6 189.7L150.9 183.8" stroke-width="1.20"/>
<path d="M151.3 191.3L153.6 185.3" stroke-width="1.20"/>
<path d="M154 192.8L156.3 186.9" stroke-width="1.20"/>
<path d="M156.7 194.4L159 188.4" stroke-width="1.20"/>
<path d="M159.4 195.9L161.7 190" stroke-width="1.20"/>
<ellipse cx="161.9" cy="193.8" rx="2.2" ry="3.4" transform="rotate(30 161.9 193.8)" stroke-width="1.20" fill="#fff"/>
<path d="M67.8 147.4L67 146.7L66.5 145.7L66.2 144.5L66.1 143.1L66.4 141.6L66.9 140L67.7 138.5L68.6 137.1L69.7 135.9L70.9 134.9L72.1 134.2L73.3 133.9L74.4 133.9L75.4 134.2L77.8 135.6L78.6 136.3L79.1 137.3L79.4 138.5L79.5 139.9L79.2 141.4L78.7 143L77.9 144.5L77 145.9L75.9 147.1L74.7 148.1L73.5 148.8L72.3 149.1L71.2 149.1L70.2 148.8Z" fill="#fff" stroke-width="1.32"/>
<ellipse cx="74" cy="142.2" rx="4.6" ry="7.6" transform="rotate(30 74 142.2)" stroke-width="1.32" fill="#fff"/>
<path d="M61 138.3L64.1 132.9L69.1 132.2L73.1 134.5L75 139.2L71.9 144.6L66.9 145.3L62.9 143Z" stroke-width="1.32" fill="#fff"/>
<path d="M71.9 144.6L66.9 145.3L65 140.6L68.1 135.2L73.1 134.5L75 139.2Z" stroke-width="1.32" fill="#fff"/>
<path d="M62.9 143L66.9 145.3" stroke-width="1.32"/>
<path d="M69.1 132.2L73.1 134.5" stroke-width="1.32"/>
<path d="M178 204.5L200 215.5" stroke-width="1.20"/>
<path d="M183.4 199.1L190.9 194.7L189.1 191.7L181.6 196.1Z" stroke-width="1.14" fill="#fff"/>
<path d="M190.5 195.3L207 185.8L205 182.2L188.5 191.7Z" stroke-width="1.14" fill="#fff"/>
<path d="M192.6 194.1L189.7 191" stroke-width="1.14"/>
<path d="M194.3 193.2L191.3 190" stroke-width="1.14"/>
<path d="M195.9 192.2L193 189.1" stroke-width="1.14"/>
<path d="M197.6 191.3L194.6 188.1" stroke-width="1.14"/>
<path d="M199.2 190.3L196.3 187.2" stroke-width="1.14"/>
<path d="M200.9 189.4L197.9 186.2" stroke-width="1.14"/>
<path d="M202.5 188.4L199.5 185.3" stroke-width="1.14"/>
<path d="M204.2 187.5L201.2 184.3" stroke-width="1.14"/>
<path d="M205.8 186.5L202.8 183.4" stroke-width="1.14"/>
<path d="M207.4 185.6L204.5 182.4" stroke-width="1.14"/>
<path d="M170 210L168.9 209.2L168.1 208L167.6 206.5L167.4 204.8L167.6 203L168.1 201.2L168.9 199.5L170 197.9L171.3 196.6L172.8 195.5L174.3 194.8L175.8 194.5L177.3 194.6L178.6 195.2L180.3 196.1L181.4 196.9L182.2 198.1L182.7 199.6L182.9 201.3L182.7 203.1L182.2 204.9L181.4 206.6L180.3 208.2L179 209.5L177.5 210.6L176 211.3L174.5 211.6L173 211.5L171.7 210.9Z" fill="#fff" stroke-width="1.20"/>
<ellipse cx="176" cy="203.5" rx="6.2" ry="8.6" transform="rotate(30 176 203.5)" stroke-width="1.20" fill="#fff"/>
<ellipse cx="176.6" cy="203.8" rx="2.6" ry="3.6" transform="rotate(30 176.6 203.8)" stroke-width="1.08"/>
<path d="M180.5 197.2L183.3 196.2" stroke-width="1.08"/>
<path d="M208.7 183.7L208 183.1L207.4 182.3L207.1 181.3L207.1 180.2L207.2 179L207.6 177.8L208.1 176.6L208.9 175.5L209.8 174.6L210.7 173.8L211.8 173.4L212.8 173.1L213.7 173.2L214.6 173.5L215.9 174.3L216.6 174.9L217.2 175.7L217.5 176.7L217.6 177.8L217.4 179L217 180.2L216.5 181.4L215.7 182.5L214.9 183.4L213.9 184.2L212.9 184.6L211.8 184.9L210.9 184.8L210.1 184.5Z" fill="#fff" stroke-width="1.20"/>
<ellipse cx="213" cy="179.4" rx="4" ry="5.9" transform="rotate(30 213 179.4)" stroke-width="1.20" fill="#fff"/>
<ellipse cx="213" cy="179.4" rx="1.2" ry="1.8" transform="rotate(30 213 179.4)" stroke-width="1.20"/>
<path d="M218.6 174.8L219.2 170L223.1 167L226.5 169L228.9 170.4L228.4 175.2L224.4 178.2L221.1 176.2Z" stroke-width="1.08" fill="#fff"/>
<path d="M228.4 175.2L224.4 178.2L221.1 176.2L221.6 171.4L225.6 168.4L228.9 170.4Z" stroke-width="1.08" fill="#fff"/>
<path d="M218.6 174.8L221.1 176.2" stroke-width="1.08"/>
<path d="M226.5 169L228.9 170.4" stroke-width="1.08"/>
<ellipse cx="225" cy="173.3" rx="3.1" ry="4.2" transform="rotate(30 225 173.3)" stroke-width="0.86"/>
<ellipse cx="225" cy="173.3" rx="1.8" ry="2.3" transform="rotate(30 225 173.3)" stroke-width="1.62"/>
<path d="M229.6 167.5L230.2 162.7L234.1 159.7L237.5 161.7L239.9 163.1L239.4 167.9L235.4 170.9L232.1 168.9Z" stroke-width="1.08" fill="#fff"/>
<path d="M239.4 167.9L235.4 170.9L232.1 168.9L232.6 164.1L236.6 161.1L239.9 163.1Z" stroke-width="1.08" fill="#fff"/>
<path d="M229.6 167.5L232.1 168.9" stroke-width="1.08"/>
<path d="M237.5 161.7L239.9 163.1" stroke-width="1.08"/>
<ellipse cx="236" cy="166" rx="3.1" ry="4.2" transform="rotate(30 236 166)" stroke-width="0.86"/>
<ellipse cx="236" cy="166" rx="1.8" ry="2.3" transform="rotate(30 236 166)" stroke-width="1.62"/>
<path d="M193 223.5L192.2 222.8L191.7 221.9L191.3 220.8L191.3 219.4L191.5 218L191.9 216.5L192.6 215L193.5 213.7L194.5 212.5L195.6 211.6L196.8 210.9L198 210.6L199 210.6L200 210.9L216.7 220.2L217.5 220.9L218 221.8L218.4 222.9L218.4 224.3L218.2 225.7L217.8 227.2L217.1 228.7L216.2 230L215.2 231.2L214.1 232.1L212.9 232.8L211.7 233.1L210.7 233.1L209.7 232.8Z" fill="#fff" stroke-width="1.20"/>
<ellipse cx="213.2" cy="226.5" rx="4.5" ry="7.2" transform="rotate(29.1 213.2 226.5)" stroke-width="1.20" fill="#fff"/>
<ellipse cx="213.2" cy="226.5" rx="1.7" ry="2.8" transform="rotate(29.1 213.2 226.5)" stroke-width="1.20"/>
<path d="M216 228L224 232.3" stroke-width="1.08"/>
<path d="M87.8 344.8L99.3 337.8A6.2 6.2 0 0 1 105.8 348.4L94.2 355.4A6.2 6.2 0 0 1 87.8 344.8Z" fill="#fff" stroke-width="1.32"/>
<path d="M192.3 281.3L203.9 274.3A6.2 6.2 0 0 1 210.3 284.9L198.8 291.9A6.2 6.2 0 0 1 192.3 281.3Z" fill="#fff" stroke-width="1.32"/>
<path d="M98.7 340.5L195.1 282L199.4 289.2L103 347.7Z" fill="#fff" stroke="none"/>
<path d="M103.8 337L189.6 285" stroke-width="1.32"/>
<path d="M108.5 344.7L194.3 292.7" stroke-width="1.32"/>
<path d="M104.9 339.3L197.1 283.4" stroke-width="1.08"/>
<path d="M99.8 345.2L198.3 285.4" stroke-width="1.08"/>
<path d="M100.9 347.1L199.5 287.3" stroke-width="1.08"/>
<path d="M99.8 345.2C99.7 345.5 99.1 346.5 99.3 346.8C99.5 347.1 100.6 347.1 100.9 347.1" stroke-width="1.08"/>
<path d="M198.3 285.4C198.6 285.5 199.7 285.4 199.9 285.7C200.1 286 199.5 287 199.5 287.3" stroke-width="1.08"/>
<ellipse cx="92.3" cy="349.3" rx="1.9" ry="2.7" transform="rotate(30 92.3 349.3)" stroke-width="1.14"/>
<ellipse cx="205.8" cy="280.4" rx="1.9" ry="2.7" transform="rotate(30 205.8 280.4)" stroke-width="1.14"/>
<path d="M94 350.3L105 356" stroke-width="1.08"/>
<path d="M190 270.8L203.3 279" stroke-width="1.08"/>
<path d="M179.7 271L180.4 265.5L184.8 262.2L188.7 264.4L191.3 265.9L190.6 271.4L186.2 274.7L182.3 272.5Z" stroke-width="1.20" fill="#fff"/>
<path d="M190.6 271.4L186.2 274.7L182.3 272.5L183 267L187.4 263.7L191.3 265.9Z" stroke-width="1.20" fill="#fff"/>
<path d="M179.7 271L182.3 272.5" stroke-width="1.20"/>
<path d="M188.7 264.4L191.3 265.9" stroke-width="1.20"/>
<ellipse cx="186.8" cy="269.2" rx="3.5" ry="4.7" transform="rotate(30 186.8 269.2)" stroke-width="0.96"/>
<ellipse cx="186.8" cy="269.2" rx="2" ry="2.7" transform="rotate(30 186.8 269.2)" stroke-width="1.80"/>
<path d="M170.1 252.1L170.1 267.2L173.9 267.2L173.9 252.1" fill="#fff" stroke-width="1.14"/>
<path d="M172 252.6L172 267.2" stroke-width="1.14"/>
<path d="M170.1 252.4C168.9 249.1 172.2 246.4 175.3 247.2C176.5 248.2 175.1 251 173.9 252.4" fill="#fff" stroke-width="1.14"/>
<g transform="rotate(-4 139.6 375)">
<path d="M137.7 369.5L137.7 385L141.5 385L141.5 369.5" fill="#fff" stroke-width="1.14"/>
<path d="M139.6 370L139.6 385" stroke-width="1.14"/>
<path d="M137.7 369.8C136.5 366.5 139.8 363.8 142.9 364.6C144.1 365.6 142.7 368.4 141.5 369.8" fill="#fff" stroke-width="1.14"/>
</g>
<path d="M69 337.4L81 343.1L83 338.9L71 333.2Z" stroke-width="1.08" fill="#fff"/>
<path d="M71.5 338.6L72.6 334" stroke-width="1.08"/>
<path d="M73.6 339.6L74.7 335" stroke-width="1.08"/>
<path d="M75.7 340.6L76.8 336" stroke-width="1.08"/>
<path d="M77.8 341.5L78.8 337" stroke-width="1.08"/>
<path d="M79.9 342.5L80.9 337.9" stroke-width="1.08"/>
<path d="M65.5 337.8L65 337.4L64.7 336.9L64.5 336.2L64.5 335.4L64.6 334.6L64.8 333.7L65.2 332.8L65.7 332L66.3 331.3L67 330.7L67.7 330.3L68.3 330.1L69 330L69.5 330.2L72.6 331.8L73.1 332.2L73.4 332.7L73.6 333.4L73.6 334.2L73.5 335L73.3 335.9L72.9 336.8L72.4 337.6L71.8 338.3L71.1 338.9L70.4 339.3L69.8 339.5L69.1 339.6L68.6 339.4Z" fill="#fff" stroke-width="1.08"/>
<ellipse cx="70.6" cy="335.6" rx="2.6" ry="4.3" transform="rotate(28 70.6 335.6)" stroke-width="1.08" fill="#fff"/>
<path d="M56 331L59.3 325.3L64.6 324.6L68.6 326.9L70.7 331.9L67.4 337.6L62 338.3L58 336Z" stroke-width="1.20" fill="#fff"/>
<path d="M67.4 337.6L62 338.3L59.9 333.3L63.2 327.6L68.6 326.9L70.7 331.9Z" stroke-width="1.20" fill="#fff"/>
<path d="M58 336L62 338.3" stroke-width="1.20"/>
<path d="M64.6 324.6L68.6 326.9" stroke-width="1.20"/>
<path d="M106.9 362L106.1 361.3L105.4 360.5L105 359.5L104.8 358.3L104.8 357.1L105.1 355.9L105.6 354.8L106.3 353.8L107.2 352.9L108.2 352.3L109.3 351.9L110.5 351.7L111.5 351.9L112.5 352.3L113.3 352.8L114.1 353.4L114.8 354.3L115.3 355.3L115.5 356.4L115.4 357.6L115.1 358.8L114.6 360L113.9 361L113 361.8L112 362.5L110.9 362.9L109.8 363L108.7 362.9L107.7 362.4Z" fill="#fff" stroke-width="1.08"/>
<ellipse cx="110.5" cy="357.6" rx="4.8" ry="5.6" transform="rotate(30 110.5 357.6)" stroke-width="1.08" fill="#fff"/>
<ellipse cx="110.5" cy="357.6" rx="2.4" ry="2.8" transform="rotate(30 110.5 357.6)" stroke-width="1.08"/>
<path d="M117.2 369L117.8 363.5L122.2 360.3L126 362.4L128.6 363.9L128 369.4L123.6 372.6L119.8 370.5Z" stroke-width="1.20" fill="#fff"/>
<path d="M128 369.4L123.6 372.6L119.8 370.5L120.4 365L124.8 361.8L128.6 363.9Z" stroke-width="1.20" fill="#fff"/>
<path d="M117.2 369L119.8 370.5" stroke-width="1.20"/>
<path d="M126 362.4L128.6 363.9" stroke-width="1.20"/>
<ellipse cx="124.2" cy="367.2" rx="3.5" ry="4.6" transform="rotate(30 124.2 367.2)" stroke-width="0.96"/>
<ellipse cx="124.2" cy="367.2" rx="2" ry="2.6" transform="rotate(30 124.2 367.2)" stroke-width="1.80"/>
<path d="M240.5 303.5L249.7 308.7L251.9 304.9L242.7 299.7Z" stroke-width="1.02" fill="#fff"/>
<path d="M242.6 304.7L243.9 300.4" stroke-width="1.02"/>
<path d="M244.3 305.6L245.6 301.3" stroke-width="1.02"/>
<path d="M245.9 306.6L247.2 302.2" stroke-width="1.02"/>
<path d="M247.6 307.5L248.9 303.2" stroke-width="1.02"/>
<path d="M249.2 308.4L250.5 304.1" stroke-width="1.02"/>
<path d="M248.8 309.7L248.5 309.4L248.2 309L248.1 308.4L248.1 307.8L248.2 307.1L248.4 306.4L248.8 305.6L249.2 305L249.7 304.4L250.3 304L250.8 303.7L251.4 303.5L251.9 303.5L252.3 303.7L256.3 306L256.7 306.3L257 306.7L257.1 307.3L257.1 307.9L257 308.6L256.8 309.3L256.4 310.1L256 310.7L255.5 311.3L254.9 311.7L254.4 312L253.8 312.2L253.3 312.2L252.8 312Z" fill="#fff" stroke-width="1.08"/>
<ellipse cx="254.6" cy="309" rx="2.1" ry="3.5" transform="rotate(30 254.6 309)" stroke-width="1.08" fill="#fff"/>
<path d="M254 310.7L259.9 306.6L265.8 309.9L265.2 314.9L259.2 318.2L254 315.2Z" stroke-width="1.20" fill="#fff"/>
<path d="M254 310.7L259.5 313.6L265.8 309.9" stroke-width="1.08"/>
<path d="M259.5 313.6L259.2 318.2" stroke-width="1.08"/>
<path d="M284 126.3L324.9 149.1L234.8 200.2L239.7 203.6" stroke-width="1.20"/>
<path d="M344.4 160.4L338.7 157.4L274.2 194.3L310 214.8L277 228.4" stroke-width="1.20"/>
<path d="M216.5 262L216.5 292.5L219 296.5L226 299.8L233 298.5L237.5 294L238 283L247 276L232 283.5" stroke-width="1.32" fill="#fff"/>
<path d="M223.5 279L223.5 297.5" stroke-width="1.08"/>
<path d="M225.5 284L230.5 282L230.5 286.5L225.5 288.5Z" stroke-width="0.96"/>
<path d="M234 281.5L238 279.5L237 283.5L233.5 285Z" stroke-width="0.96"/>
<path d="M225.9 295.1L225.6 294.9L225.4 294.6L225.2 294.2L225.1 293.7L225.2 293.2L225.3 292.7L225.5 292.2L225.8 291.8L226.1 291.4L226.5 291.1L226.9 290.9L227.4 290.7L227.8 290.8L228.1 290.9L230.4 292.1L230.7 292.3L230.9 292.6L231.1 293L231.2 293.5L231.1 294L231 294.5L230.8 295L230.5 295.4L230.2 295.8L229.8 296.1L229.4 296.3L228.9 296.5L228.5 296.4L228.2 296.3Z" fill="#fff" stroke-width="0.96"/>
<ellipse cx="229.3" cy="294.2" rx="1.7" ry="2.4" transform="rotate(27.6 229.3 294.2)" stroke-width="0.96" fill="#fff"/>
<path d="M231.4 292.1L231.1 291.9L230.9 291.6L230.7 291.2L230.6 290.7L230.7 290.2L230.8 289.7L231 289.2L231.3 288.8L231.6 288.4L232 288.1L232.4 287.9L232.9 287.7L233.3 287.8L233.6 287.9L235.9 289.1L236.2 289.3L236.4 289.6L236.6 290L236.7 290.5L236.6 291L236.5 291.5L236.3 292L236 292.4L235.7 292.8L235.3 293.1L234.9 293.3L234.4 293.5L234 293.4L233.7 293.3Z" fill="#fff" stroke-width="0.96"/>
<ellipse cx="234.8" cy="291.2" rx="1.7" ry="2.4" transform="rotate(27.6 234.8 291.2)" stroke-width="0.96" fill="#fff"/>
<ellipse cx="247.1" cy="239.3" rx="29.5" ry="45" transform="rotate(30 247.1 239.3)" stroke-width="1.44" fill="#fff"/>
<ellipse cx="248" cy="239.8" rx="27.8" ry="42.8" transform="rotate(30 248 239.8)" stroke-width="1.02"/>
<ellipse cx="249" cy="240.3" rx="25.6" ry="40" transform="rotate(30 249 240.3)" stroke-width="1.02"/>
<ellipse cx="250" cy="240.8" rx="23.4" ry="37.2" transform="rotate(30 250 240.8)" stroke-width="1.02"/>
<ellipse cx="253.4" cy="243" rx="21.5" ry="32.6" transform="rotate(30 253.4 243)" stroke-width="1.14"/>
<ellipse cx="253.9" cy="243.3" rx="19.9" ry="30.2" transform="rotate(30 253.9 243.3)" stroke-width="1.08"/>
<ellipse cx="257.6" cy="249.6" rx="13.1" ry="18.7" transform="rotate(30 257.6 249.6)" stroke-width="1.20"/>
<ellipse cx="257.8" cy="249.8" rx="11.6" ry="16.6" transform="rotate(30 257.8 249.8)" stroke-width="1.08"/>
<ellipse cx="252.3" cy="245.6" rx="5.9" ry="8.2" transform="rotate(30 252.3 245.6)" stroke-width="1.20" fill="#fff"/>
<ellipse cx="252.1" cy="245.5" rx="3.4" ry="4.5" transform="rotate(30 252.1 245.5)" stroke-width="1.80"/>
<ellipse cx="252.6" cy="245.8" rx="4.5" ry="6.3" transform="rotate(30 252.6 245.8)" stroke-width="0.96"/>
<path d="M257.4 237.1L261.6 236L264.8 240.2L262.7 244.5L259.5 242.4Z" stroke-width="1.08"/>
<path d="M257.4 244.5L262.7 245.5L261.6 248.7Z" stroke-width="1.02"/>
<path d="M248.9 255.1L255.2 254L256.3 259.3L252.1 258.8Z" stroke-width="1.08"/>
<path d="M257.4 250.8L259.5 255.1L256.8 256.1" stroke-width="1.02"/>
<path d="M237.8 237.1L244.4 241.1" stroke-width="1.08"/>
<path d="M239.1 234.9L245.7 238.8" stroke-width="1.08"/>
<path d="M254 219.1L254.6 232.3" stroke-width="1.08"/>
<path d="M256.5 219.1L257.1 231.8" stroke-width="1.08"/>
<path d="M260.5 227.7L264.8 230.5" stroke-width="1.08"/>
<path d="M270.1 234.9L274.9 237.1" stroke-width="1.08"/>
<path d="M267.9 252.9L272.7 255.3" stroke-width="1.08"/>
<path d="M232.5 259.3L243.1 263.5" stroke-width="1.08"/>
<path d="M245.7 267.8L249.9 263.5" stroke-width="1.08"/>
<path d="M264.8 260.9L261.6 264.6" stroke-width="1.08"/>
<ellipse cx="271.1" cy="225.2" rx="4.4" ry="5.2" transform="rotate(30 271.1 225.2)" stroke-width="1.26" fill="#fff"/>
<ellipse cx="271.4" cy="225.4" rx="2.5" ry="3" transform="rotate(30 271.4 225.4)" stroke-width="1.20"/>
<path d="M241.2 273.7L240.7 273.3L240.3 272.7L240.1 272L240 271.2L240.1 270.4L240.3 269.6L240.7 268.8L241.2 268L241.8 267.4L242.5 266.9L243.2 266.6L243.9 266.5L244.6 266.5L245.2 266.7L248 268.3L248.5 268.7L248.9 269.3L249.1 270L249.2 270.8L249.1 271.6L248.9 272.4L248.5 273.2L248 274L247.4 274.6L246.7 275.1L246 275.4L245.3 275.5L244.6 275.5L244 275.3Z" fill="#fff" stroke-width="1.14"/>
<ellipse cx="246" cy="271.8" rx="2.9" ry="4" transform="rotate(29.7 246 271.8)" stroke-width="1.14" fill="#fff"/>
<path d="M247.8 277.7L247.4 277.3L247 276.8L246.8 276.2L246.7 275.6L246.8 274.8L247 274.1L247.3 273.4L247.7 272.7L248.2 272.2L248.8 271.7L249.4 271.4L250.1 271.3L250.7 271.3L251.2 271.5L255.9 274.1L256.3 274.5L256.7 275L256.9 275.6L257 276.2L256.9 277L256.7 277.7L256.4 278.4L256 279.1L255.5 279.6L254.9 280.1L254.3 280.4L253.6 280.5L253 280.5L252.5 280.3Z" fill="#fff" stroke-width="1.14"/>
<ellipse cx="254.2" cy="277.2" rx="2.5" ry="3.5" transform="rotate(29 254.2 277.2)" stroke-width="1.14" fill="#fff"/>
<ellipse cx="232.5" cy="262" rx="1.4" ry="2" transform="rotate(30 232.5 262)" stroke-width="0.96"/>
<path d="M208.5 281.8L216.5 286" stroke-width="1.08"/>
<path d="M255.9 132.5L256.5 127.6L260.4 124.7L262.9 126.1L266.2 128.1L265.7 132.9L261.7 135.9Z" stroke-width="1.14" fill="#fff"/>
<path d="M265.7 132.9L261.7 135.9L258.4 133.9L258.9 129.1L262.9 126.1L266.2 128.1Z" stroke-width="1.14" fill="#fff"/>
<path d="M260.4 124.7L262.9 126.1" stroke-width="1.14"/>
<ellipse cx="262.3" cy="131" rx="3.1" ry="4.2" transform="rotate(30 262.3 131)" stroke-width="0.91"/>
<ellipse cx="262.3" cy="131" rx="1.8" ry="2.3" transform="rotate(30 262.3 131)" stroke-width="1.71"/>
<ellipse cx="270.4" cy="157.6" rx="4.6" ry="5.8" transform="rotate(18 270.4 157.6)" stroke-width="1.26" fill="#fff"/>
<path d="M271.8 120L274 116.8L279 115.4L279.5 121.8L278.6 148.5L275 154L269.5 151.7L272.7 146.7Z" stroke-width="1.26" fill="#fff"/>
<ellipse cx="270" cy="158.1" rx="2" ry="2.9" transform="rotate(18 270 158.1)" stroke-width="1.14"/>
<path d="M273.4 121.8L276.1 120.9L276.3 134.9L274 135.8Z" stroke-width="1.02"/>
<ellipse cx="279.5" cy="163.1" rx="5.3" ry="6.6" transform="rotate(18 279.5 163.1)" stroke-width="1.26" fill="#fff"/>
<path d="M279 115.4L282.4 112.7L287 112.2L289.9 115L291.5 124L288.1 128.1L285.4 155.8L284 158.1L275.6 157.2L278.6 148.5L279.5 121.8Z" stroke-width="1.26" fill="#fff"/>
<ellipse cx="279.5" cy="163.1" rx="5.3" ry="6.6" transform="rotate(18 279.5 163.1)" stroke-width="1.26" fill="#fff"/>
<ellipse cx="279.7" cy="163.5" rx="2.3" ry="3.1" transform="rotate(18 279.7 163.5)" stroke-width="1.20"/>
<path d="M279.5 121.8L282.4 129L288.1 128.1" stroke-width="1.08"/>
<path d="M282.4 129L281.3 149" stroke-width="1.08"/>
<path d="M282.4 112.7L283.6 120.6L282.4 129" stroke-width="1.02"/>
<ellipse cx="284.9" cy="125.9" rx="1.2" ry="1.7" transform="rotate(20 284.9 125.9)" stroke-width="1.02"/>
<path d="M292.6 114.9L304.1 108.7L301.9 104.5L290.4 110.7Z" stroke-width="1.08" fill="#fff"/>
<path d="M295 113.6L291.9 109.9" stroke-width="1.08"/>
<path d="M297 112.6L293.8 108.8" stroke-width="1.08"/>
<path d="M298.9 111.5L295.7 107.8" stroke-width="1.08"/>
<path d="M300.8 110.5L297.7 106.7" stroke-width="1.08"/>
<path d="M302.8 109.5L299.6 105.7" stroke-width="1.08"/>
<path d="M305.7 110.2L305.1 110.4L304.4 110.4L303.7 110.2L303 109.8L302.3 109.1L301.6 108.4L301.1 107.5L300.6 106.6L300.4 105.6L300.2 104.7L300.3 103.9L300.5 103.1L300.8 102.6L301.3 102.2L303.3 101.1L303.9 100.9L304.6 100.9L305.3 101.1L306 101.5L306.7 102.2L307.4 102.9L307.9 103.8L308.4 104.7L308.6 105.7L308.8 106.6L308.7 107.4L308.5 108.2L308.2 108.7L307.7 109.1Z" fill="#fff" stroke-width="1.08"/>
<ellipse cx="305.5" cy="105.1" rx="2.8" ry="4.6" transform="rotate(-28.8 305.5 105.1)" stroke-width="1.08" fill="#fff"/>
<path d="M301.4 103.8L303.4 99.3L306.9 97.4L311.8 98.1L314.7 103.3L312.7 107.8L309.2 109.8L304.3 109.1Z" stroke-width="1.20" fill="#fff"/>
<path d="M314.7 103.3L312.7 107.8L307.8 107.1L304.9 101.9L306.9 97.4L311.8 98.1Z" stroke-width="1.20" fill="#fff"/>
<path d="M309.2 109.8L312.7 107.8" stroke-width="1.20"/>
<path d="M303.4 99.3L306.9 97.4" stroke-width="1.20"/>
<path d="M343.1 163.7L350.6 168.1L354.4 161.5L346.9 157.1Z" stroke-width="0.96" fill="#fff"/>
<path d="M345.1 164.9L348.1 157.8" stroke-width="0.96"/>
<path d="M346.8 165.9L349.8 158.8" stroke-width="0.96"/>
<path d="M348.4 166.8L351.4 159.8" stroke-width="0.96"/>
<path d="M350.1 167.8L353 160.7" stroke-width="0.96"/>
<path d="M351.1 167.2L364.6 175L367.4 170.2L353.9 162.4Z" stroke-width="1.08" fill="#fff"/>
<ellipse cx="356.6" cy="167.1" rx="1.6" ry="3" transform="rotate(30 356.6 167.1)" stroke-width="0.96"/>
<ellipse cx="360.6" cy="169.5" rx="1.6" ry="3" transform="rotate(30 360.6 169.5)" stroke-width="0.96"/>
<ellipse cx="364.6" cy="171.8" rx="1.6" ry="3" transform="rotate(30 364.6 171.8)" stroke-width="0.96"/>
<path d="M363.6 178.9L363 178.3L362.6 177.5L362.4 176.5L362.4 175.3L362.7 174L363.2 172.6L363.9 171.3L364.7 170.1L365.7 169.1L366.7 168.2L367.7 167.6L368.7 167.3L369.6 167.3L370.4 167.5L372.4 168.7L373 169.3L373.4 170.1L373.6 171.1L373.6 172.3L373.3 173.6L372.8 175L372.1 176.3L371.3 177.5L370.3 178.5L369.3 179.4L368.3 180L367.3 180.3L366.4 180.3L365.6 180.1Z" fill="#fff" stroke-width="1.20"/>
<ellipse cx="369" cy="174.4" rx="3.6" ry="6.6" transform="rotate(31 369 174.4)" stroke-width="1.20" fill="#fff"/>
<path d="M369.5 168.2L381 174.5L383.2 177.5L378.2 186.5L376 187.5L365.8 181.8Z" stroke-width="1.20" fill="#fff"/>
<path d="M381 174.5L376 184.2" stroke-width="1.08"/>
<path d="M376 184.2L376 187.5" stroke-width="0.96"/>
<path d="M376 184.2L366 178.8" stroke-width="1.08"/>
<path d="M280.6 273.8L284 264L290.4 256.8L297 250.5L304 245.9L310 244L314.9 243.9L320 244.8L324.5 246.6L330 250.5L334 255.4L336.7 262.2L336.7 280L322 285L296 292L281.6 286Z" fill="#fff" stroke="none"/>
<path d="M280.6 273.8C281.2 272.2 282.4 266.8 284 264C285.6 261.2 288.2 259.1 290.4 256.8C292.6 254.6 294.7 252.3 297 250.5C299.3 248.7 301.8 247 304 245.9C306.2 244.8 308.2 244.3 310 244C311.8 243.7 313.2 243.8 314.9 243.9C316.6 244 318.4 244.4 320 244.8C321.6 245.2 322.8 245.7 324.5 246.6C326.2 247.5 328.4 249 330 250.5C331.6 252 332.9 253.5 334 255.4C335.1 257.4 336.2 261.1 336.7 262.2" stroke-width="1.32"/>
<path d="M290.4 280C290.8 278.8 291.9 275.1 293 273C294.1 270.9 295.7 269.4 297.2 267.7C298.7 265.9 300.2 264.1 302 262.5C303.8 260.9 306.3 259.4 308.1 258.1C309.9 256.9 311.4 255.9 313 255C314.6 254.1 316.1 253.2 317.7 252.7C319.3 252.2 320.9 251.9 322.5 251.8C324.1 251.7 325.6 251.2 327.2 252C328.8 252.8 331.2 256 332 256.8" stroke-width="1.20"/>
<path d="M280.6 273.8L281.6 285.6L288.8 289L290.4 280L280.6 273.8" stroke-width="1.20"/>
<path d="M291.9 281.6C292.3 280.5 293.4 277 294.5 275C295.6 273 297.1 271.4 298.6 269.6C300.1 267.8 301.6 266 303.4 264.4C305.2 262.8 307.7 261.2 309.5 260C311.3 258.8 312.8 257.9 314.4 257C316 256.1 317.4 255.3 319 254.8C320.6 254.3 322.2 254.1 323.8 254C325.4 253.9 326.9 253.7 328.4 254.4C329.8 255.2 331.8 257.8 332.5 258.5" stroke-width="1.08"/>
<path d="M296.6 285.4C296.9 284.5 297.4 281.6 298.2 280C299 278.4 300.1 277.3 301.3 275.8C302.5 274.3 303.9 272.4 305.5 270.8C307.1 269.2 309.1 267.6 310.8 266.3C312.5 265 313.9 263.9 315.5 263C317.1 262.1 319 261.3 320.4 260.9C321.8 260.5 322.9 260.6 324 260.8C325.1 261 326.7 262 327.2 262.2" stroke-width="1.20"/>
<path d="M299.8 281.4C300.3 280.7 301.7 278.7 302.9 277.2C304.1 275.7 305.5 273.8 307.1 272.2C308.7 270.6 310.7 269 312.4 267.7C314.1 266.4 315.5 265.3 317.1 264.4C318.7 263.5 320.6 262.7 322 262.3C323.4 261.9 324.5 262 325.6 262.2C326.7 262.4 328.3 263.4 328.8 263.6" stroke-width="1.08"/>
<path d="M288.8 289L291 291L294.5 289.5L295 286L296.6 285.4" stroke-width="1.08"/>
<path d="M322 262.5L323 266.5L328 269.8L333.5 267L336.7 262.2" stroke-width="1.08"/>
<path d="M323 266.5L322.2 272.5L327.5 275.5L328 269.8" stroke-width="1.08"/>
<path d="M327.5 275.5L333.5 272.5L333.5 267" stroke-width="1.08"/>
<path d="M336.7 262.2L337.6 270L336 280L333 288L329 294" stroke-width="1.20"/>
<path d="M322.2 272.5L324 279.5L322 286.5L324.5 290" stroke-width="1.08"/>
<path d="M326.8 278L327.8 284L325 290" stroke-width="1.08"/>
<path d="M329.8 276L332 279L331 284" stroke-width="1.08"/>
<path d="M327.4 294.8L333.4 291.6" stroke-width="0.96"/>
<path d="M327.9 292.6L333.8 289.4" stroke-width="0.96"/>
<path d="M328.5 290.4L334.3 287.2" stroke-width="0.96"/>
<path d="M329 288.2L334.8 285" stroke-width="0.96"/>
<path d="M329.6 286L335.2 282.8" stroke-width="0.96"/>
<path d="M330.1 283.8L335.6 280.6" stroke-width="0.96"/>
<path d="M330.7 281.6L336.1 278.4" stroke-width="0.96"/>
<path d="M280.2 293.6L280.9 300.6L283.5 304.4L290 302L291.8 299L288.5 295.5L290 292.4L286.5 290.2L280.2 293.6" stroke-width="1.20" fill="#fff"/>
<path d="M283.5 297.8L288.5 295.5" stroke-width="1.08"/>
<path d="M283.5 297.8L280.2 293.6" stroke-width="1.08"/>
<path d="M283.5 297.8L283.5 304.4" stroke-width="1.08"/>
<path d="M283.5 304.4C284 304.9 285.2 306.4 286.3 307.4C287.4 308.4 288.6 309.5 290 310.4C291.4 311.3 293 312 294.5 312.7C296 313.4 297.4 313.9 299 314.3C300.6 314.7 302.2 314.9 304 314.8C305.8 314.7 307.7 314.4 309.5 313.8C311.3 313.2 313.4 312.3 314.9 311.3C316.4 310.3 317.9 308.6 318.5 308" stroke-width="1.32"/>
<path d="M285 300.8C285.7 301.4 287.4 303.3 289 304.5C290.6 305.7 292.7 307.1 294.5 308C296.3 308.9 298.2 309.5 300 309.8C301.8 310.1 303.7 310 305.5 309.6C307.3 309.2 309.2 308.3 311 307.4C312.8 306.5 314.7 305.1 316 304C317.3 302.9 318.2 301.5 318.6 301" stroke-width="1.08"/>
<path d="M291.8 299C292.4 299.4 294.1 300.8 295.5 301.5C296.9 302.2 298.4 302.7 300 303C301.6 303.3 303.4 303.4 305 303.2C306.6 303 308 302.4 309.5 301.7C311 301 312.6 300.1 314 299.2C315.4 298.3 317.1 296.8 317.7 296.3" stroke-width="1.20"/>
<path d="M292.5 294C293.1 294.3 294.8 295.2 296 295.6C297.2 296 298.6 296.4 300 296.6C301.4 296.8 303.1 296.8 304.5 296.6C305.9 296.4 307.1 296 308.5 295.4C309.9 294.8 311.5 294 313 293C314.5 292 316.9 290.1 317.7 289.5" stroke-width="1.20"/>
<path d="M290 292.4L292.5 294" stroke-width="1.08"/>
<path d="M294.5 311C295.4 311.2 298.2 312.2 300 312.4C301.8 312.6 303.7 312.6 305.5 312.2C307.3 311.8 309.2 310.9 311 310C312.8 309.1 315.2 307.1 316 306.5" stroke-width="0.96"/>
<path d="M301 312.6l3.5 0.2l0-3.2l-3.5-0.2z" fill="#999" stroke="none"/>
<path d="M347.4 282L347.4 301L353.2 301L353.2 282Z" stroke-width="1.08" fill="#fff"/>
<path d="M347.4 284.8L353.2 284" stroke-width="1.50"/>
<path d="M347.4 287.1L353.2 286.4" stroke-width="1.50"/>
<path d="M347.4 289.5L353.2 288.7" stroke-width="1.50"/>
<path d="M347.4 291.9L353.2 291.1" stroke-width="1.50"/>
<path d="M347.4 294.3L353.2 293.5" stroke-width="1.50"/>
<path d="M347.4 296.6L353.2 295.9" stroke-width="1.50"/>
<path d="M347.4 299L353.2 298.2" stroke-width="1.50"/>
<path d="M350 282L350 278.5C350 275.3 354.5 275 354.3 279.8" stroke-width="1.3"/>
<path d="M351.5 301L351.5 306.9C351.5 309.9 347.1 310 347.1 306.9" stroke-width="1.3"/>
<path d="M319.9 299.5L320.2 317.5L326 317.5L325.7 299.5Z" stroke-width="1.08" fill="#fff"/>
<path d="M319.9 302.1L325.7 301.4" stroke-width="1.50"/>
<path d="M320 304.4L325.8 303.6" stroke-width="1.50"/>
<path d="M320 306.6L325.8 305.9" stroke-width="1.50"/>
<path d="M320.1 308.9L325.8 308.1" stroke-width="1.50"/>
<path d="M320.1 311.1L325.9 310.4" stroke-width="1.50"/>
<path d="M320.1 313.4L325.9 312.6" stroke-width="1.50"/>
<path d="M320.2 315.6L326 314.9" stroke-width="1.50"/>
<path d="M322.5 299.5L322.5 295.5C322.5 291.9 327 291.6 326.8 297" stroke-width="1.3"/>
<path d="M324.3 317.5L324.3 323.5C324.3 326.6 319.9 326.7 319.9 323.5" stroke-width="1.3"/>
<path d="M365.6 325.4L364.1 324.4L362.9 323L362.1 321.2L361.7 319L361.7 316.7L362.1 314.3L363 312L364.1 309.8L365.6 307.8L367.4 306.3L369.2 305.2L371.1 304.6L373 304.5L374.7 304.9L380.2 307.4L381.6 308.3L382.8 309.8L383.6 311.6L384 313.7L384 316L383.6 318.4L382.8 320.8L381.6 323L380.1 324.9L378.4 326.5L376.5 327.6L374.6 328.2L372.8 328.3L371 327.8Z" fill="#fff" stroke-width="1.20"/>
<ellipse cx="375.6" cy="317.6" rx="7.8" ry="11.2" transform="rotate(24 375.6 317.6)" stroke-width="1.20" fill="#fff"/>
<ellipse cx="375.6" cy="317.6" rx="6.3" ry="9" transform="rotate(24 375.6 317.6)" stroke-width="1.44"/>
<ellipse cx="375.6" cy="317.6" rx="4.9" ry="6.9" transform="rotate(24 375.6 317.6)" stroke-width="0.96"/>
<ellipse cx="375.6" cy="317.6" rx="3.5" ry="5" transform="rotate(24 375.6 317.6)" stroke-width="1.44"/>
<ellipse cx="375.6" cy="317.6" rx="2.2" ry="3.1" transform="rotate(24 375.6 317.6)" stroke-width="0.96"/>
<path d="M388.3 336.6L387 335.7L386 334.4L385.3 332.8L385 330.9L385 328.8L385.5 326.7L386.3 324.7L387.4 322.8L388.8 321.2L390.3 319.9L392 319L393.7 318.5L395.4 318.5L396.9 319L400.7 321L402 321.9L403 323.2L403.7 324.8L404 326.7L404 328.8L403.5 330.9L402.7 332.9L401.6 334.8L400.2 336.4L398.7 337.7L397 338.6L395.3 339.1L393.6 339.1L392.1 338.6Z" fill="#fff" stroke-width="1.20"/>
<ellipse cx="396.4" cy="329.8" rx="7.1" ry="9.8" transform="rotate(26 396.4 329.8)" stroke-width="1.20" fill="#fff"/>
<ellipse cx="396.9" cy="330" rx="5.2" ry="7.2" transform="rotate(26 396.9 330)" stroke-width="1.44"/>
<ellipse cx="397.5" cy="330.3" rx="3.4" ry="5.2" transform="rotate(26 397.5 330.3)" stroke-width="1.08"/>
<path d="M406 343L405.4 342.6L404.9 341.9L404.7 341L404.6 340L404.7 339L405 337.9L405.5 336.8L406.1 335.9L406.9 335L407.7 334.4L408.6 333.9L409.5 333.7L410.3 333.7L411 334L437.7 348.9L438.3 349.3L438.8 350L439 350.9L439.1 351.9L439 352.9L438.7 354L438.2 355.1L437.6 356L436.8 356.9L436 357.5L435.1 358L434.2 358.2L433.4 358.2L432.7 357.9Z" fill="#fff" stroke-width="1.26"/>
<ellipse cx="435.2" cy="353.4" rx="3.4" ry="5.2" transform="rotate(29 435.2 353.4)" stroke-width="1.26" fill="#fff"/>
<ellipse cx="435.2" cy="353.4" rx="1.9" ry="2.9" transform="rotate(29 435.2 353.4)" stroke-width="1.26"/>
<g transform="rotate(-22 434.5 371)">
<rect x="430.2" y="368.3" width="8.6" height="5.6" rx="1.4" fill="#fff" stroke-width="0.95"/>
<path d="M432.4 368.5L432.4 373.7" stroke-width="0.84"/>
<path d="M434.2 368.5L434.2 373.7" stroke-width="0.84"/>
<path d="M436 368.5L436 373.7" stroke-width="0.84"/>
</g>
<path d="M491 225.5L498.5 244.5" stroke-width="1.32"/>
<path d="M458.5 243L471.5 279" stroke-width="1.32"/>
<path d="M446 267L470 311" stroke-width="1.32"/>
<path d="M438.5 300L465.5 324.5" stroke-width="1.32"/>
<path d="M441 328L463.5 352" stroke-width="1.32"/>
<path d="M406.5 394L430 374.5" stroke-width="1.32"/>
<path d="M402.5 365.5L414.5 349.5" stroke-width="1.32"/>
<path d="M382 355.5L389.5 340.5" stroke-width="1.32"/>
<path d="M359.5 341L367 326.5" stroke-width="1.32"/>
<ellipse cx="166.3" cy="536.6" rx="10.4" ry="13" transform="rotate(17 166.3 536.6)" stroke-width="2.04"/>
<path d="M179.3 558.4L177.7 557.4L176.5 555.9L175.6 554L175.2 551.8L175.2 549.5L175.6 547L176.4 544.6L177.6 542.4L179.2 540.4L180.9 538.9L182.9 537.7L184.8 537.1L186.8 537.1L188.6 537.5L194 540L195.6 541L196.8 542.5L197.7 544.3L198.2 546.5L198.2 548.9L197.7 551.3L196.9 553.7L195.7 556L194.1 557.9L192.4 559.5L190.4 560.6L188.5 561.2L186.5 561.3L184.8 560.8Z" fill="#fff" stroke-width="1.20"/>
<ellipse cx="189.4" cy="550.4" rx="8.2" ry="11.4" transform="rotate(24 189.4 550.4)" stroke-width="1.20" fill="#fff"/>
<ellipse cx="189.4" cy="550.4" rx="6.6" ry="9.1" transform="rotate(24 189.4 550.4)" stroke-width="1.44"/>
<ellipse cx="189.4" cy="550.4" rx="5.1" ry="7.1" transform="rotate(24 189.4 550.4)" stroke-width="0.96"/>
<ellipse cx="189.4" cy="550.4" rx="3.7" ry="5.1" transform="rotate(24 189.4 550.4)" stroke-width="1.44"/>
<ellipse cx="189.4" cy="550.4" rx="2.3" ry="3.2" transform="rotate(24 189.4 550.4)" stroke-width="0.96"/>
<path d="M216.2 537.4L212 541.6L204.1 551.6L201.3 552.2L194.3 563.5L189.8 578.4L190.6 585.9L189.2 589.6L190.6 594.2L194.3 597L193.8 600.8L203.6 605.9L209.2 610.1L212.9 611L215.7 609.1L225 608.2L227.1 603.2L230.4 605.1L236.4 599.5L240.1 593.9L247.6 586.5L250.4 577.1L254.1 566.9L255 563.2L253.6 561.8L255 559.5L255.5 553.9L251.3 547.3L249.5 541.8L234.6 532.9L230.8 534.8L224.3 533.4L221.1 535.2L225 544Z" stroke-width="1.32" fill="#fff"/>
<path d="M216.2 537.4L225 544" stroke-width="1.20"/>
<path d="M212 541.6L220.4 548.6L225 544" stroke-width="1.20"/>
<path d="M220.4 548.6L212.9 557L204.1 551.6" stroke-width="1.20"/>
<path d="M212.9 557L207.3 561.7L204.6 569.1L194.3 563.5" stroke-width="1.20"/>
<path d="M204.6 569.1L203.6 573.8L199.9 584L189.8 578.4" stroke-width="1.20"/>
<path d="M199.9 584L199 589.6L190.6 585.9" stroke-width="1.20"/>
<path d="M199 589.6L214.8 583.1L221.8 571L226 562.1L226 544.9" stroke-width="1.20"/>
<path d="M212.9 557L215.7 557.9" stroke-width="1.20"/>
<path d="M210.1 564.5L214.8 560.7L220.4 564.5L216.7 571.4L209.2 570Z" stroke-width="1.20"/>
<path d="M214.8 560.7L215.7 566.3L216.7 571.4" stroke-width="1.20"/>
<path d="M215.7 566.3L210.1 564.5" stroke-width="1.20"/>
<path d="M213.4 553.7L205 548.6" stroke-width="0.96"/>
<path d="M205.9 566.8L195.7 561.2" stroke-width="0.96"/>
<path d="M201.3 581.7L191.1 576.1" stroke-width="0.96"/>
<path d="M189.2 589.6L199 594.2L215.7 585.9L223.2 588.2L226 589.6L225 608.2" stroke-width="1.20"/>
<path d="M199 594.2L199 598.9L190.6 594.2" stroke-width="1.20"/>
<path d="M194.3 597L202.7 601.7L203.6 605.9" stroke-width="1.20"/>
<path d="M199 598.9L203.2 601.2" stroke-width="1.20"/>
<path d="M215.7 585.9L214.8 583.1" stroke-width="1.20"/>
<path d="M219.5 586.8L221.3 589.6L226 589.6" stroke-width="1.08"/>
<rect x="211.9" y="592.7" width="4.4" height="12.5" rx="2" transform="rotate(24 214.1 598.9)" stroke-width="1.15"/>
<path d="M221.1 535.2L229.4 540.4L230.8 534.8" stroke-width="1.20"/>
<path d="M229.4 540.4L230.4 560.8" stroke-width="1.20"/>
<path d="M226.2 541.8L226.2 558.5L230.4 560.8L238.7 566L255 559.5" stroke-width="1.20"/>
<path d="M221.1 535.2L226.2 541.8" stroke-width="1.20"/>
<path d="M224.3 533.4L230.4 537.6L234.6 532.9" stroke-width="1.20"/>
<path d="M232.7 537.1L241.1 539.9L242 537.6" stroke-width="1.08"/>
<path d="M230.4 537.6L229.9 540.4" stroke-width="1.08"/>
<path d="M241.1 545L247.1 548.3L242 558.1L236.9 555.7Z" stroke-width="1.20"/>
<path d="M226.2 558.5L228 562.2L229.9 566.9L221.5 580.9L230.4 585.5L236.9 577.1L238.3 570.6L254.1 563.2" stroke-width="1.20"/>
<path d="M229.9 566.9L238.3 570.6" stroke-width="1.20"/>
<path d="M230.4 585.5L230.4 605.1" stroke-width="1.20"/>
<path d="M221.5 580.9L221.5 584.6L227.1 590.2L227.1 603.2" stroke-width="1.20"/>
<path d="M238.7 566L253.6 561.8" stroke-width="1.08"/>
<path d="M230.4 560.8L233.6 564.1L238.7 566" stroke-width="1.08"/>
<ellipse cx="240.6" cy="584.6" rx="3.9" ry="5.2" transform="rotate(22 240.6 584.6)" stroke-width="1.20"/>
<path d="M269 576.2L278 580.6" stroke-width="1.08"/>
<path d="M258.4 577L259 571.5L263.4 568.3L267.2 570.4L269.8 571.9L269.2 577.4L264.8 580.6L261 578.5Z" stroke-width="1.20" fill="#fff"/>
<path d="M269.2 577.4L264.8 580.6L261 578.5L261.6 573L266 569.8L269.8 571.9Z" stroke-width="1.20" fill="#fff"/>
<path d="M258.4 577L261 578.5" stroke-width="1.20"/>
<path d="M267.2 570.4L269.8 571.9" stroke-width="1.20"/>
<ellipse cx="265.4" cy="575.2" rx="3.5" ry="4.6" transform="rotate(30 265.4 575.2)" stroke-width="0.96"/>
<ellipse cx="265.4" cy="575.2" rx="2" ry="2.6" transform="rotate(30 265.4 575.2)" stroke-width="1.80"/>
<path d="M258.3 594.5L262.9 590.7L266.9 596L262.1 601Z" stroke-width="1.14" fill="#fff"/>
<path d="M253 627.8L256.1 625.5L257.9 630.1L254.8 632.8Z" stroke-width="1.14" fill="#fff"/>
<path d="M283.6 575.9L286.3 574.1L289 576.8L286.3 578.9Z" stroke-width="1.14" fill="#fff"/>
<path d="M268.9 641.3L264.4 637.7L261 632.6L259 626.3L258.3 619.2L259.2 611.5L261.4 603.8L265 596.3L269.6 589.5L275.2 583.7L281.4 579.2L287.9 576.2L294.3 574.8L300.4 575.2L305.9 577.3L308.9 579L313.4 582.6L316.8 587.7L318.8 594L319.5 601.1L318.6 608.8L316.4 616.5L312.8 624L308.2 630.8L302.6 636.6L296.4 641.1L289.9 644.1L283.5 645.5L277.4 645.1L271.9 643Z" fill="#fff" stroke-width="1.32"/>
<ellipse cx="290.4" cy="611" rx="25.9" ry="37" transform="rotate(30 290.4 611)" stroke-width="1.32" fill="#fff"/>
<ellipse cx="292.2" cy="612" rx="23.5" ry="33.6" transform="rotate(30 292.2 612)" stroke-width="1.08"/>
<path d="M275.8 641C275.3 640.5 273.6 639 272.7 637.7C271.8 636.4 271 634.9 270.4 633.3C269.9 631.7 269.4 629.9 269.2 628.1C269 626.2 268.9 624.2 269.1 622.2C269.2 620.2 269.5 618.1 270 616C270.5 613.9 271.2 611.8 272 609.7C272.8 607.6 273.8 605.6 274.9 603.6C276 601.6 277.3 599.7 278.7 597.9C280 596.2 281.5 594.5 283.1 593C284.6 591.5 286.3 590.1 288 589C289.6 587.8 291.4 586.8 293.1 586.1C294.8 585.3 296.6 584.7 298.2 584.4C299.9 584 301.6 583.9 303.2 584C304.8 584.1 306.3 584.4 307.7 585C309.1 585.5 310.4 586.2 311.6 587.2C312.8 588.1 313.8 589.3 314.7 590.6C315.6 591.9 316.5 594.3 316.9 595" stroke-width="1.20"/>
<ellipse cx="301" cy="619.5" rx="17.3" ry="24" transform="rotate(30 301 619.5)" stroke-width="1.20" fill="#fff"/>
<ellipse cx="304.5" cy="599" rx="5.2" ry="6.6" transform="rotate(30 304.5 599)" stroke-width="1.20" fill="#fff"/>
<ellipse cx="324.1" cy="610.4" rx="5.2" ry="6.6" transform="rotate(30 324.1 610.4)" stroke-width="1.20" fill="#fff"/>
<ellipse cx="284" cy="631.6" rx="5.2" ry="6.6" transform="rotate(30 284 631.6)" stroke-width="1.20" fill="#fff"/>
<ellipse cx="303.7" cy="643.7" rx="5.2" ry="6.6" transform="rotate(30 303.7 643.7)" stroke-width="1.20" fill="#fff"/>
<path d="M299.9 595.3L307.5 592.2L318.1 597.5L326.4 605.1L328.7 611.9L322.6 617.2L321.1 628.5L313.5 639.1L308.2 646.7L301.4 649L295.4 643.7L287.8 637.6L280.3 633.8L279.5 627.8L286.3 623.2L292.4 610.4L299.9 602.8Z" fill="#fff" stroke="none"/>
<path d="M309.8 593.4C310.9 593.9 314.5 594.7 316.6 596C318.7 597.3 320.9 599.9 322.3 601.3C323.8 602.7 324.8 604.1 325.3 604.6" stroke-width="1.20"/>
<path d="M289.6 624.3C290 622.7 290.6 617.6 291.6 614.9C292.6 612.2 294 610 295.4 608.1C296.8 606.2 299.2 604.3 299.9 603.6" stroke-width="1.20"/>
<path d="M287.8 637.3C288.8 638.1 292 640.7 293.9 642.2C295.8 643.6 298.3 645.3 299.2 645.9" stroke-width="1.20"/>
<path d="M326.4 616.4C326 618 325.4 622.5 324.1 625.5C322.9 628.5 321.2 631.3 318.8 634.6C316.4 637.9 311.3 643.4 309.8 645.2" stroke-width="1.20"/>
<ellipse cx="304.8" cy="599.2" rx="2.2" ry="3" transform="rotate(30 304.8 599.2)" stroke-width="1.14"/>
<ellipse cx="324.4" cy="610.6" rx="2.2" ry="3" transform="rotate(30 324.4 610.6)" stroke-width="1.14"/>
<ellipse cx="284.3" cy="631.8" rx="2.2" ry="3" transform="rotate(30 284.3 631.8)" stroke-width="1.14"/>
<ellipse cx="304" cy="643.9" rx="2.2" ry="3" transform="rotate(30 304 643.9)" stroke-width="1.14"/>
<path d="M301.4 604.6L307.2 602.1L309.3 605.8L303.7 609.2L301.4 604.6" stroke-width="1.08"/>
<path d="M303.7 609.2L304.2 604.6" stroke-width="0.96"/>
<path d="M287.8 625.2L293.1 623.2L294.2 631.6L289.6 633.8L287.8 625.2" stroke-width="1.08"/>
<path d="M289.6 633.8L290.5 624.8" stroke-width="0.96"/>
<path d="M310.5 597.5L318.8 601.3" stroke-width="1.02"/>
<path d="M285.6 637.9L293.9 642.2" stroke-width="1.02"/>
<path d="M299.8 633.7L298.1 632.3L296.8 630.4L296 628L295.8 625.3L296.1 622.4L297 619.5L298.3 616.7L300.1 614.1L302.2 611.9L304.5 610.2L307 609.1L309.4 608.6L311.7 608.7L313.8 609.5L318.3 611.9L320 613.3L321.3 615.2L322.1 617.6L322.3 620.3L322 623.2L321.1 626.1L319.8 628.9L318 631.5L315.9 633.7L313.6 635.4L311.1 636.5L308.7 637L306.4 636.9L304.3 636.1Z" fill="#fff" stroke-width="1.26"/>
<ellipse cx="311.3" cy="624" rx="9.8" ry="14" transform="rotate(30 311.3 624)" stroke-width="1.26" fill="#fff"/>
<ellipse cx="311.6" cy="624.2" rx="8.3" ry="11.8" transform="rotate(30 311.6 624.2)" stroke-width="1.44"/>
<path d="M322.9 642.1L322 641.4L321.4 640.3L321 639L321 637.4L321.3 635.8L321.8 634.1L322.6 632.5L323.6 630.9L324.8 629.6L326.1 628.6L327.5 627.9L328.8 627.5L330 627.5L331.1 627.9L334.5 629.9L335.4 630.6L336 631.7L336.4 633L336.4 634.6L336.1 636.2L335.6 637.9L334.8 639.5L333.8 641.1L332.6 642.4L331.3 643.4L329.9 644.1L328.6 644.5L327.4 644.5L326.3 644.1Z" fill="#fff" stroke-width="1.20"/>
<ellipse cx="330.4" cy="637" rx="5.1" ry="8.2" transform="rotate(30 330.4 637)" stroke-width="1.20" fill="#fff"/>
<path d="M325.3 641.7L324.6 641.1L324.1 640.3L323.8 639.2L323.8 638L324 636.6L324.4 635.3L325.1 634L325.9 632.7L326.8 631.7L327.9 630.8L329 630.3L330 630L331 630L331.9 630.3L335.7 632.5L336.4 633.1L336.9 633.9L337.2 635L337.2 636.2L337 637.6L336.6 638.9L335.9 640.2L335.1 641.5L334.2 642.5L333.1 643.4L332 643.9L331 644.2L330 644.2L329.1 643.9Z" fill="#fff" stroke-width="1.08"/>
<ellipse cx="332.4" cy="638.2" rx="4.1" ry="6.6" transform="rotate(30 332.4 638.2)" stroke-width="1.08" fill="#fff"/>
<path d="M330.2 643.4L329.6 642.9L329.2 642.2L328.9 641.3L328.9 640.3L329.1 639.1L329.4 638L330 636.9L330.7 635.8L331.5 634.9L332.4 634.2L333.3 633.7L334.2 633.5L335.1 633.5L335.8 633.8L349.4 641.8L350 642.3L350.4 643L350.7 643.9L350.7 644.9L350.5 646.1L350.2 647.2L349.6 648.3L348.9 649.4L348.1 650.3L347.2 651L346.3 651.5L345.4 651.7L344.5 651.7L343.8 651.4Z" fill="#fff" stroke-width="1.20"/>
<ellipse cx="346.6" cy="646.6" rx="3.5" ry="5.6" transform="rotate(30 346.6 646.6)" stroke-width="1.20" fill="#fff"/>
<ellipse cx="346.6" cy="646.6" rx="2.1" ry="3.4" transform="rotate(30 346.6 646.6)" stroke-width="1.20"/>
<path d="M351.7 665.8L350.1 664.6L348.9 662.8L348.1 660.7L347.8 658.2L348 655.6L348.7 652.9L349.8 650.3L351.4 647.9L353.2 645.8L355.3 644.2L357.5 643L359.7 642.5L361.8 642.5L363.7 643.2L369.2 646.1L370.8 647.3L372 649L372.8 651.2L373.1 653.6L372.9 656.3L372.3 659L371.1 661.6L369.6 664L367.7 666.1L365.6 667.7L363.4 668.9L361.2 669.4L359.1 669.4L357.2 668.7Z" fill="#fff" stroke-width="1.20"/>
<ellipse cx="363.2" cy="657.4" rx="9" ry="12.8" transform="rotate(28 363.2 657.4)" stroke-width="1.20" fill="#fff"/>
<ellipse cx="363.2" cy="657.4" rx="7.2" ry="10.2" transform="rotate(28 363.2 657.4)" stroke-width="1.44"/>
<ellipse cx="363.2" cy="657.4" rx="5.4" ry="7.7" transform="rotate(28 363.2 657.4)" stroke-width="0.96"/>
<ellipse cx="363.2" cy="657.4" rx="3.8" ry="5.4" transform="rotate(28 363.2 657.4)" stroke-width="1.44"/>
<path d="M380.9 661.3L382.7 659.1L385.5 657.9L386.9 659.9L388.4 652.6L390 651.9L391.5 654.8L392.8 655.3L394.2 647.8L395.7 647L397.4 650.2L398.6 650.7L399.8 642.9L401.2 642.2L402.9 645.3L404.4 645.8L405.8 638.1L407.3 637.3L409 640.5L410.5 639.5L414.2 636.9L416.6 636.5L418.4 640.7L420.2 641.7L421.8 637.1L423.5 636.9L424.7 641.3L426.6 641.9L427.9 639.5L430.5 640.1L430.5 640.1L434.5 647.1L436.4 653.9L437 661.3L436.4 668.7L435.1 675.5L433.2 681.4L429 692L423.5 713.1L415 719.2L401.7 723.3L395.1 723.4L383.4 722.1L377.1 719.1L372.2 714.9L369.2 710L367.7 703.7L368.6 694.1L371.3 683.5L375 671.9L380.9 661.3Z" fill="#fff" stroke="none"/>
<path d="M380.9 661.3C379.9 663.1 376.5 668.2 375 671.9C373.4 675.6 372.4 679.8 371.3 683.5C370.3 687.3 369.2 690.8 368.6 694.1C368 697.5 367.6 701 367.7 703.7C367.9 706.3 368.5 708.2 369.2 710C370 711.9 370.9 713.4 372.2 714.9C373.5 716.4 375.2 717.9 377.1 719.1C378.9 720.3 380.4 721.4 383.4 722.1C386.4 722.8 392 723.2 395.1 723.4C398.1 723.6 398.4 724 401.7 723.3C405 722.6 411.4 720.9 415 719.2C418.6 717.5 422.1 714.1 423.5 713.1" stroke-width="1.20"/>
<path d="M430.5 640.1C431.2 641.3 433.5 644.8 434.5 647.1C435.4 649.4 436 651.5 436.4 653.9C436.8 656.3 437 658.8 437 661.3C437 663.8 436.7 666.4 436.4 668.7C436.1 671.1 435.6 673.4 435.1 675.5C434.6 677.6 434.2 678.7 433.2 681.4C432.2 684.2 429.7 690.3 429 692" stroke-width="1.20"/>
<path d="M380.9 661.3C381.2 660.9 381.9 659.7 382.7 659.1C383.5 658.6 384.8 657.8 385.5 657.9C386.2 658 386.5 660.7 386.9 659.9C387.4 659 387.9 653.9 388.4 652.6C388.9 651.3 389.4 651.5 390 651.9C390.5 652.2 391.1 654.2 391.5 654.8C392 655.3 392.3 656.4 392.8 655.3C393.2 654.1 393.7 649.1 394.2 647.8C394.7 646.4 395.1 646.6 395.7 647C396.2 647.4 396.9 649.6 397.4 650.2C397.8 650.8 398.2 651.9 398.6 650.7C399 649.4 399.3 644.3 399.8 642.9C400.2 641.5 400.7 641.8 401.2 642.2C401.7 642.6 402.4 644.7 402.9 645.3C403.4 645.9 403.9 647 404.4 645.8C404.9 644.6 405.3 639.5 405.8 638.1C406.3 636.7 406.8 636.9 407.3 637.3C407.8 637.7 408.4 640.1 409 640.5C409.5 640.9 410.3 639.7 410.5 639.5" stroke-width="1.32"/>
<path d="M414.2 636.9C414.6 636.8 415.9 635.9 416.6 636.5C417.3 637.1 417.8 639.9 418.4 640.7C419 641.6 419.7 642.3 420.2 641.7C420.8 641.1 421.3 637.9 421.8 637.1C422.3 636.3 423 636.2 423.5 636.9C424 637.6 424.2 640.5 424.7 641.3C425.2 642.2 426.1 642.2 426.6 641.9C427.2 641.6 427.2 639.8 427.9 639.5C428.5 639.2 430.1 640 430.5 640.1" stroke-width="1.32"/>
<path d="M379 665.3C378.3 667.5 376.1 673.8 375 678.3C373.8 682.7 372.7 687.8 372.2 692C371.7 696.3 371.5 700.4 371.8 703.7C372.1 706.9 372.9 709.4 373.9 711.5C374.9 713.6 377.1 715.6 377.7 716.4" stroke-width="1.08"/>
<ellipse cx="406.5" cy="681.5" rx="13" ry="18.6" transform="rotate(30 406.5 681.5)" stroke-width="1.20"/>
<path d="M394.3 684.2C394.5 683.6 394.7 682 395.1 680.9C395.4 679.7 395.9 678.6 396.4 677.5C396.9 676.5 397.5 675.4 398.2 674.4C398.9 673.5 399.6 672.5 400.4 671.7C401.2 670.8 402.1 670 403 669.4C403.9 668.7 404.8 668.1 405.7 667.6C406.7 667.2 407.6 666.8 408.6 666.5C409.5 666.3 410.4 666.1 411.3 666.1C412.2 666.1 413.1 666.2 413.9 666.4C414.8 666.6 415.5 667 416.3 667.4C417 667.9 417.6 668.4 418.2 669.1C418.7 669.7 419.2 670.5 419.6 671.3C420 672.1 420.3 673.1 420.5 674C420.7 675 420.8 676.6 420.9 677.1" stroke-width="0.96"/>
<ellipse cx="405.7" cy="660.2" rx="1.5" ry="2.1" transform="rotate(30 405.7 660.2)" stroke-width="1.08"/>
<ellipse cx="422.6" cy="670.8" rx="1.5" ry="2.1" transform="rotate(30 422.6 670.8)" stroke-width="1.08"/>
<ellipse cx="387" cy="689.9" rx="1.5" ry="2.1" transform="rotate(30 387 689.9)" stroke-width="1.08"/>
<ellipse cx="405.7" cy="701.6" rx="1.5" ry="2.1" transform="rotate(30 405.7 701.6)" stroke-width="1.08"/>
<path d="M416.9 603.7L412.6 601.3L412.6 663.5" stroke-width="1.20"/>
<path d="M414.1 664.1C414.8 664.4 417 665.2 417.9 666.2C418.9 667.2 419.4 669.4 419.6 670" stroke-width="1.08"/>
<path d="M412 686.7L432 697.5" stroke-width="1.20"/>
<path d="M354.8 713.2L441.7 658.1" stroke-width="1.05"/>
<path d="M441.7 658.1C442.8 657.8 446.3 656.6 448.5 656.4C450.6 656.3 452.4 656.4 454.4 657.1C456.4 657.7 458.5 658.8 460.3 660.2C462.1 661.7 463.7 663.6 465 665.5C466.3 667.5 467.4 669.8 468.2 672.1C468.9 674.4 469.1 676.7 469.2 679.3C469.3 681.9 469.1 685 468.8 687.8C468.4 690.6 467.8 693.6 467.1 696.3C466.4 698.9 465.6 701.4 464.5 703.9C463.5 706.4 462.4 708.5 460.7 711.1C459 713.7 456.9 716.7 454.4 719.6C451.9 722.4 450.9 724.1 445.9 728C441 731.9 428.3 740.4 424.7 742.9" stroke-width="1.26"/>
<path d="M358 718.5L439.6 665.5" stroke-width="1.05"/>
<path d="M439.6 665.5C440.6 665.2 443.8 663.7 445.9 663.2C448 662.7 450.3 662.1 452.3 662.4C454.2 662.6 456 663.7 457.6 664.9C459.1 666.1 460.7 668 461.8 669.8C462.9 671.5 463.8 673.6 464.3 675.5C464.9 677.4 464.9 679.2 465 681.4C465 683.7 464.9 686.4 464.5 688.8C464.2 691.3 463.6 693.7 462.9 696.3C462.1 698.8 461.4 701.4 460.3 703.9C459.3 706.4 458.2 708.6 456.5 711.1C454.8 713.6 452.6 716.2 450.1 718.7C447.7 721.2 446.6 722.2 441.7 725.9C436.7 729.6 424 738.3 420.5 740.7" stroke-width="1.26"/>
<path d="M424.7 742.9L263.4 819.6" stroke-width="1.26"/>
<path d="M420.5 740.7L265 815.2" stroke-width="1.26"/>
<path d="M266.8 778.1C266 778.5 263.6 779.7 262.2 780.6C260.9 781.5 259.8 782.2 258.6 783.5C257.4 784.8 256 786.8 255 788.6C253.9 790.4 253 792.5 252.3 794.4C251.6 796.3 251.1 798 250.8 799.9C250.5 801.7 250.3 803.5 250.4 805.3C250.6 807.1 250.9 809.1 251.5 810.7C252.1 812.4 253.1 814 254.1 815.3C255 816.6 256.1 817.6 257.3 818.4C258.6 819.1 260.3 819.6 261.3 819.8C262.3 820.1 263 819.9 263.3 819.9" stroke-width="1.26"/>
<path d="M271.3 779.9C270.6 780.3 268.1 781.3 266.8 782.2C265.4 783.2 264.3 784.1 263.2 785.3C262 786.6 260.8 788.2 259.9 789.7C259 791.2 258.3 792.7 257.7 794.4C257.1 796.1 256.7 798 256.4 799.9C256.2 801.7 256.2 803.7 256.3 805.3C256.3 806.9 256.6 808.1 257 809.3C257.4 810.5 257.9 811.6 258.6 812.6C259.3 813.5 260.3 814.6 261.3 815.1C262.4 815.6 264.4 815.6 265 815.6" stroke-width="1.26"/>
<path d="M432.2 714.6L430.3 713.2L428.8 711.3L427.8 708.9L427.3 706.2L427.4 703.3L428 700.4L429.2 697.6L430.9 695.1L432.9 692.9L435.3 691.2L437.8 690.1L440.3 689.6L442.7 689.8L445 690.6L448.2 692.3L450.1 693.7L451.6 695.6L452.6 698L453.1 700.7L453 703.6L452.4 706.5L451.2 709.3L449.5 711.8L447.5 714L445.1 715.7L442.6 716.8L440.1 717.3L437.7 717.1L435.4 716.3Z" fill="#fff" stroke-width="1.26"/>
<ellipse cx="441.8" cy="704.3" rx="10.6" ry="13.6" transform="rotate(28 441.8 704.3)" stroke-width="1.26" fill="#fff"/>
<ellipse cx="442.2" cy="704.5" rx="7.8" ry="10.6" transform="rotate(28 442.2 704.5)" stroke-width="1.92"/>
<ellipse cx="442.6" cy="704.7" rx="5.6" ry="8.2" transform="rotate(28 442.6 704.7)" stroke-width="1.08"/>
<ellipse cx="443.2" cy="705.1" rx="3.6" ry="5.6" transform="rotate(28 443.2 705.1)" stroke-width="1.20" fill="#fff"/>
<path d="M444.2 706L465 717.4" stroke-width="1.20"/>
<path d="M465.8 730.2L464.8 729.3L464 728.1L463.5 726.6L463.3 724.8L463.5 722.9L464.1 720.9L464.9 718.9L466 717.1L467.3 715.5L468.8 714.2L470.3 713.2L471.8 712.7L473.3 712.7L474.6 713L483.6 717.4L484.6 718.3L485.4 719.5L485.9 721L486.1 722.8L485.9 724.7L485.3 726.7L484.5 728.7L483.4 730.5L482.1 732.1L480.6 733.4L479.1 734.4L477.6 734.9L476.1 734.9L474.8 734.6Z" fill="#fff" stroke-width="1.26"/>
<ellipse cx="479.2" cy="726" rx="6" ry="9.6" transform="rotate(27 479.2 726)" stroke-width="1.26" fill="#fff"/>
<ellipse cx="479.2" cy="726" rx="2.9" ry="4.6" transform="rotate(27 479.2 726)" stroke-width="1.26"/>
<path d="M482.5 727.4L492.5 732.6" stroke-width="1.20"/>
<path d="M354 713.4L365 706.3" stroke-width="1.08"/>
<path d="M358.5 717.6L365 713.3" stroke-width="1.08"/>
<path d="M291.2 761.7L349.2 722.3" stroke-width="4.9" stroke="#111"/>
<circle cx="291.2" cy="761.7" r="1.2" fill="#fff" stroke="none"/>
<circle cx="296.5" cy="758.1" r="1.2" fill="#fff" stroke="none"/>
<circle cx="301.8" cy="754.5" r="1.2" fill="#fff" stroke="none"/>
<circle cx="307" cy="751" r="1.2" fill="#fff" stroke="none"/>
<circle cx="312.3" cy="747.4" r="1.2" fill="#fff" stroke="none"/>
<circle cx="317.6" cy="743.8" r="1.2" fill="#fff" stroke="none"/>
<circle cx="322.8" cy="740.2" r="1.2" fill="#fff" stroke="none"/>
<circle cx="328.1" cy="736.6" r="1.2" fill="#fff" stroke="none"/>
<circle cx="333.4" cy="733" r="1.2" fill="#fff" stroke="none"/>
<circle cx="338.7" cy="729.5" r="1.2" fill="#fff" stroke="none"/>
<circle cx="343.9" cy="725.9" r="1.2" fill="#fff" stroke="none"/>
<circle cx="349.2" cy="722.3" r="1.2" fill="#fff" stroke="none"/>
<path d="M296.3 763.8L354.3 724.4" stroke-width="4.9" stroke="#111"/>
<circle cx="296.3" cy="763.8" r="1.2" fill="#fff" stroke="none"/>
<circle cx="301.5" cy="760.2" r="1.2" fill="#fff" stroke="none"/>
<circle cx="306.8" cy="756.7" r="1.2" fill="#fff" stroke="none"/>
<circle cx="312.1" cy="753.1" r="1.2" fill="#fff" stroke="none"/>
<circle cx="317.4" cy="749.5" r="1.2" fill="#fff" stroke="none"/>
<circle cx="322.6" cy="745.9" r="1.2" fill="#fff" stroke="none"/>
<circle cx="327.9" cy="742.3" r="1.2" fill="#fff" stroke="none"/>
<circle cx="333.2" cy="738.7" r="1.2" fill="#fff" stroke="none"/>
<circle cx="338.5" cy="735.2" r="1.2" fill="#fff" stroke="none"/>
<circle cx="343.7" cy="731.6" r="1.2" fill="#fff" stroke="none"/>
<circle cx="349" cy="728" r="1.2" fill="#fff" stroke="none"/>
<circle cx="354.3" cy="724.4" r="1.2" fill="#fff" stroke="none"/>
<path d="M292.5 763.6L353 722.5" stroke-width="1.0" stroke="#fff"/>
<path d="M270.4 725.4L270.4 717.2L295 701.8L326.7 731.8" stroke-width="1.20"/>
<path d="M281.4 703.2L282.4 709.4" stroke-width="1.20"/>
<path d="M256.8 753.6L260.4 742.1L277.7 742.1L282.2 768.1" stroke-width="1.20"/>
<path d="M270 737.6L269.5 758.1" stroke-width="1.20"/>
<g transform="rotate(-32 256.4 757.2)">
<rect x="251.4" y="754.6" width="10" height="5.2" rx="1.6" fill="#fff" stroke-width="0.95"/>
<path d="M256 754.8L256 759.6" stroke-width="0.84"/>
<path d="M257.4 754.8L257.4 759.6" stroke-width="0.84"/>
<path d="M258.8 754.8L258.8 759.6" stroke-width="0.84"/>
<path d="M260.2 754.8L260.2 759.6" stroke-width="0.84"/>
</g>
<g transform="rotate(-38 266.8 763)">
<rect x="262" y="761.2" width="9.6" height="3.6" rx="1.8" fill="#fff" stroke-width="0.95"/>
<path d="M264 763L269.6 763" stroke-width="0.84"/>
</g>
<g transform="rotate(-30 279 773.5)">
<rect x="273" y="769.2" width="6.4" height="4" rx="1.6" fill="#fff" stroke-width="0.95"/>
<rect x="276.6" y="772.2" width="8.4" height="4.6" rx="1.8" fill="#fff" stroke-width="0.95"/>
<rect x="278.8" y="768" width="6.4" height="4" rx="1.6" fill="#fff" stroke-width="0.95"/>
</g>
<path d="M428.2 607.1C428.9 607 431.1 606.5 432.4 606.6C433.7 606.7 434.9 607.1 436 607.7C437.2 608.4 438.4 609.4 439.3 610.5C440.2 611.6 441.1 613.7 441.5 614.4" stroke-width="1.20"/>
<path d="M425.7 611.9C426.4 611.9 428.4 611.7 429.6 611.9C430.8 612.1 432 612.5 433 613.2C434 613.8 435 614.8 435.7 615.8C436.4 616.8 437 618.6 437.2 619.2" stroke-width="1.20"/>
<path d="M419.1 615L422.1 604.1L427.5 601.7L428.2 607.1L425.7 611.9Z" stroke-width="1.20" fill="#fff"/>
<path d="M441.5 614.4L446.3 613.2L446.3 621L439 627.1L437.2 619.2Z" stroke-width="1.20" fill="#fff"/>
<ellipse cx="424.3" cy="608.6" rx="1.9" ry="2.7" transform="rotate(25 424.3 608.6)" stroke-width="1.08"/>
<ellipse cx="442.1" cy="619.8" rx="1.9" ry="2.7" transform="rotate(25 442.1 619.8)" stroke-width="1.08"/>
<path d="M419.4 614.4L420.9 609.3L422.1 613.2Z" fill="#111" stroke="none"/>
<path d="M448.1 625.9L456.6 631.4L459 627.6L450.5 622.1Z" stroke-width="1.02" fill="#fff"/>
<path d="M449.9 627.1L451.6 622.7" stroke-width="1.02"/>
<path d="M451.3 628L453 623.6" stroke-width="1.02"/>
<path d="M452.8 629L454.4 624.6" stroke-width="1.02"/>
<path d="M454.2 629.9L455.8 625.5" stroke-width="1.02"/>
<path d="M455.6 630.8L457.3 626.4" stroke-width="1.02"/>
<path d="M455.4 632.6L455 632.2L454.8 631.7L454.6 631.1L454.7 630.4L454.8 629.6L455.1 628.8L455.5 628.1L456 627.4L456.6 626.7L457.2 626.3L457.9 625.9L458.5 625.8L459.1 625.8L459.6 626L466.1 630.1L466.5 630.5L466.7 631L466.9 631.6L466.8 632.3L466.7 633.1L466.4 633.9L466 634.6L465.5 635.3L464.9 636L464.3 636.4L463.6 636.8L463 636.9L462.4 636.9L461.9 636.7Z" fill="#fff" stroke-width="1.14"/>
<ellipse cx="464" cy="633.4" rx="2.3" ry="3.9" transform="rotate(32 464 633.4)" stroke-width="1.14" fill="#fff"/>
<path d="M461 635.1L464.5 629.6L469.9 629L475 632.2L476.9 637.3L473.4 642.9L468 643.4L462.9 640.2Z" stroke-width="1.20" fill="#fff"/>
<path d="M473.4 642.9L468 643.4L466.1 638.3L469.6 632.7L475 632.2L476.9 637.3Z" stroke-width="1.20" fill="#fff"/>
<path d="M462.9 640.2L468 643.4" stroke-width="1.20"/>
<path d="M469.9 629L475 632.2" stroke-width="1.20"/>
<path d="M504.1 739.7L521.1 749.4" stroke-width="1.20"/>
<path d="M508.8 737.3L518.8 732.1L517.2 729.1L507.2 734.3Z" stroke-width="1.14" fill="#fff"/>
<path d="M518.5 732.7L535.8 723.9L533.8 720.1L516.5 728.9Z" stroke-width="1.14" fill="#fff"/>
<path d="M520.6 731.6L517.8 728.3" stroke-width="1.14"/>
<path d="M522.3 730.7L519.5 727.4" stroke-width="1.14"/>
<path d="M524 729.9L521.2 726.6" stroke-width="1.14"/>
<path d="M525.7 729L522.9 725.7" stroke-width="1.14"/>
<path d="M527.4 728.1L524.6 724.8" stroke-width="1.14"/>
<path d="M529.1 727.3L526.3 724" stroke-width="1.14"/>
<path d="M530.8 726.4L528 723.1" stroke-width="1.14"/>
<path d="M532.4 725.6L529.7 722.3" stroke-width="1.14"/>
<path d="M534.1 724.7L531.3 721.4" stroke-width="1.14"/>
<path d="M535.8 723.8L533 720.5" stroke-width="1.14"/>
<path d="M495 747.2L493.7 746.2L492.8 744.9L492.1 743.2L491.9 741.2L492 739.1L492.6 736.9L493.5 734.8L494.7 732.9L496.2 731.3L497.9 730L499.6 729.1L501.4 728.6L503.1 728.7L504.6 729.2L506.5 730.2L507.8 731.2L508.7 732.5L509.4 734.2L509.6 736.2L509.5 738.3L508.9 740.5L508 742.6L506.8 744.5L505.3 746.1L503.6 747.4L501.9 748.3L500.1 748.8L498.4 748.7L496.9 748.2Z" fill="#fff" stroke-width="1.26"/>
<ellipse cx="501.7" cy="739.2" rx="7.1" ry="10.2" transform="rotate(28 501.7 739.2)" stroke-width="1.26" fill="#fff"/>
<ellipse cx="502.3" cy="739.5" rx="2.7" ry="3.9" transform="rotate(28 502.3 739.5)" stroke-width="1.14"/>
<path d="M536.2 722.4L535.5 721.8L535 721L534.7 720L534.6 718.8L534.7 717.6L535.1 716.4L535.7 715.2L536.4 714.1L537.3 713.1L538.3 712.4L539.4 711.9L540.4 711.6L541.4 711.7L542.2 712L543.6 712.8L544.3 713.4L544.8 714.2L545.1 715.2L545.2 716.4L545.1 717.6L544.7 718.8L544.1 720L543.4 721.1L542.5 722.1L541.5 722.8L540.5 723.3L539.4 723.6L538.5 723.5L537.6 723.2Z" fill="#fff" stroke-width="1.20"/>
<ellipse cx="540.6" cy="718" rx="4.1" ry="6" transform="rotate(30 540.6 718)" stroke-width="1.20" fill="#fff"/>
<ellipse cx="540.6" cy="718" rx="1.2" ry="1.8" transform="rotate(30 540.6 718)" stroke-width="1.20"/>
<path d="M545.4 713L546 707.9L550.1 704.9L552.6 706.3L556.1 708.4L555.5 713.4L551.4 716.5L548.9 715Z" stroke-width="1.14" fill="#fff"/>
<path d="M555.5 713.4L551.4 716.5L547.9 714.4L548.5 709.4L552.6 706.3L556.1 708.4Z" stroke-width="1.14" fill="#fff"/>
<path d="M548.9 715L551.4 716.5" stroke-width="1.14"/>
<path d="M550.1 704.9L552.6 706.3" stroke-width="1.14"/>
<ellipse cx="552" cy="711.4" rx="3.2" ry="4.3" transform="rotate(30 552 711.4)" stroke-width="0.91"/>
<ellipse cx="552" cy="711.4" rx="1.8" ry="2.4" transform="rotate(30 552 711.4)" stroke-width="1.71"/>
<path d="M557.1 706.5L557.7 701.4L561.8 698.4L564.3 699.8L567.8 701.9L567.2 706.9L563.1 710L560.6 708.5Z" stroke-width="1.14" fill="#fff"/>
<path d="M567.2 706.9L563.1 710L559.6 707.9L560.2 702.9L564.3 699.8L567.8 701.9Z" stroke-width="1.14" fill="#fff"/>
<path d="M560.6 708.5L563.1 710" stroke-width="1.14"/>
<path d="M561.8 698.4L564.3 699.8" stroke-width="1.14"/>
<ellipse cx="563.7" cy="704.9" rx="3.2" ry="4.3" transform="rotate(30 563.7 704.9)" stroke-width="0.91"/>
<ellipse cx="563.7" cy="704.9" rx="1.8" ry="2.4" transform="rotate(30 563.7 704.9)" stroke-width="1.71"/>
<path d="M523.8 760.5L522.8 759.7L522 758.6L521.4 757.2L521.2 755.7L521.3 754.1L521.8 752.5L522.5 751L523.5 749.6L524.6 748.4L526 747.5L527.4 747L528.8 746.7L530.2 746.9L531.4 747.4L532.2 747.8L533.2 748.6L534.1 749.8L534.6 751.1L534.8 752.6L534.7 754.2L534.3 755.8L533.5 757.4L532.6 758.8L531.4 759.9L530 760.8L528.6 761.4L527.2 761.6L525.8 761.5L524.6 761Z" fill="#fff" stroke-width="1.14"/>
<ellipse cx="528.4" cy="754.4" rx="5.9" ry="7.6" transform="rotate(30 528.4 754.4)" stroke-width="1.14" fill="#fff"/>
<ellipse cx="528.4" cy="754.4" rx="3.1" ry="4" transform="rotate(30 528.4 754.4)" stroke-width="1.14"/>
<path d="M537 770.6L535.7 769.7L534.8 768.5L534.2 767L533.9 765.3L533.9 763.5L534.3 761.6L535.1 759.9L536.1 758.2L537.4 756.9L538.9 755.8L540.5 755.1L542.1 754.8L543.6 754.9L545 755.4L547 756.5L548.3 757.4L549.2 758.6L549.8 760.1L550.1 761.8L550.1 763.6L549.7 765.5L548.9 767.2L547.9 768.9L546.6 770.2L545.1 771.3L543.5 772L541.9 772.3L540.4 772.2L539 771.7Z" fill="#fff" stroke-width="1.20"/>
<ellipse cx="543" cy="764.1" rx="6.7" ry="8.6" transform="rotate(28 543 764.1)" stroke-width="1.20" fill="#fff"/>
<path d="M537.5 768.2L538 761.5L543.3 757.2L546.1 758.7L550.9 761.3L550.4 768L545.1 772.3L542.2 770.8Z" stroke-width="1.20" fill="#fff"/>
<path d="M550.4 768L545.1 772.3L540.3 769.7L540.8 763L546.1 758.7L550.9 761.3Z" stroke-width="1.20" fill="#fff"/>
<path d="M542.2 770.8L545.1 772.3" stroke-width="1.20"/>
<path d="M543.3 757.2L546.1 758.7" stroke-width="1.20"/>
<ellipse cx="545.6" cy="765.5" rx="4.3" ry="5.8" transform="rotate(28 545.6 765.5)" stroke-width="0.96"/>
<ellipse cx="545.6" cy="765.5" rx="2.7" ry="3.6" transform="rotate(28 545.6 765.5)" stroke-width="1.80"/>
<path d="M82.4 801.5L96.9 782.4L100.3 785.7L100.5 787.1L120.2 776.3L123.5 777.9L123.3 795.1L101 807.8L100.3 813.3Z" stroke-width="1.20" fill="#fff"/>
<path d="M85.8 802.6L100.3 785.7" stroke-width="1.08"/>
<path d="M100.5 787.1L100.5 790.7L121.3 779.4L123.5 777.9" stroke-width="1.08"/>
<text transform="matrix(1 -0.55 0 1 100.2 804) scale(0.62 1)" font-size="15.5" font-weight="bold" style="stroke-width:.5px">FWD</text>
<text transform="translate(301.7 79.8) scale(1.26 1)" font-size="12" text-anchor="middle">12</text>
<text transform="translate(278.3 92.5) scale(1.26 1)" font-size="12" text-anchor="middle">11</text>
<text transform="translate(255.5 105.5) scale(1.26 1)" font-size="12" text-anchor="middle">13</text>
<text transform="translate(188.3 133.7) scale(1.26 1)" font-size="12" text-anchor="middle">41</text>
<text transform="translate(195 165.4) scale(1.26 1)" font-size="12" text-anchor="middle">42</text>
<text transform="translate(213.2 155.6) scale(1.26 1)" font-size="12" text-anchor="middle">43</text>
<text transform="translate(229.3 145.9) scale(1.26 1)" font-size="12" text-anchor="middle">44</text>
<text transform="translate(380 148.1) scale(1.26 1)" font-size="12" text-anchor="middle">10</text>
<text transform="translate(99.3 206.5) scale(1.26 1)" font-size="12" text-anchor="middle">37</text>
<text transform="translate(191.8 252.3) scale(1.26 1)" font-size="12" text-anchor="middle">40</text>
<text transform="translate(395.8 221.1) scale(1.26 1)" font-size="12" text-anchor="middle">8</text>
<text transform="translate(488 223.8) scale(1.26 1)" font-size="12" text-anchor="middle">23</text>
<text transform="translate(453 240.8) scale(1.26 1)" font-size="12" text-anchor="middle">24</text>
<text transform="translate(440.5 265.8) scale(1.26 1)" font-size="12" text-anchor="middle">26</text>
<text transform="translate(432 299.3) scale(1.26 1)" font-size="12" text-anchor="middle">25</text>
<text transform="translate(435 326.8) scale(1.26 1)" font-size="12" text-anchor="middle">1</text>
<text transform="translate(361.7 261.4) scale(1.26 1)" font-size="12" text-anchor="middle">9</text>
<text transform="translate(300.9 332.5) scale(1.26 1)" font-size="12" text-anchor="middle">9</text>
<text transform="translate(124.2 278.1) scale(1.26 1)" font-size="12" text-anchor="middle">36</text>
<text transform="translate(148.3 288.8) scale(1.26 1)" font-size="12" text-anchor="middle">34</text>
<text transform="translate(166 341.5) scale(1.26 1)" font-size="12" text-anchor="middle">30</text>
<text transform="translate(214 330.8) scale(1.26 1)" font-size="12" text-anchor="middle">7</text>
<text transform="translate(238.3 343.3) scale(1.26 1)" font-size="12" text-anchor="middle">31</text>
<text transform="translate(357 352.3) scale(1.26 1)" font-size="12" text-anchor="middle">4</text>
<text transform="translate(379 366.3) scale(1.26 1)" font-size="12" text-anchor="middle">3</text>
<text transform="translate(398 376.3) scale(1.26 1)" font-size="12" text-anchor="middle">2</text>
<text transform="translate(397 404.8) scale(1.26 1)" font-size="12" text-anchor="middle">27</text>
<text transform="translate(57.7 377.5) scale(1.26 1)" font-size="12" text-anchor="middle">32</text>
<text transform="translate(79.3 388.1) scale(1.26 1)" font-size="12" text-anchor="middle">35</text>
<text transform="translate(97.3 398.8) scale(1.26 1)" font-size="12" text-anchor="middle">33</text>
<text transform="translate(116 408.3) scale(1.26 1)" font-size="12" text-anchor="middle">36</text>
<text transform="translate(141.2 571.5) scale(1.26 1)" font-size="12" text-anchor="middle">6</text>
<text transform="translate(166.8 587) scale(1.26 1)" font-size="12" text-anchor="middle">4</text>
<text transform="translate(184.8 632.8) scale(1.26 1)" font-size="12" text-anchor="middle">5</text>
<text transform="translate(280.7 543.5) scale(1.26 1)" font-size="12" text-anchor="middle">21</text>
<text transform="translate(243.8 670.1) scale(1.26 1)" font-size="12" text-anchor="middle">14</text>
<text transform="translate(305.8 678.7) scale(1.26 1)" font-size="12" text-anchor="middle">15</text>
<text transform="translate(340.5 690) scale(1.26 1)" font-size="12" text-anchor="middle">17</text>
<text transform="translate(389 618.6) scale(1.26 1)" font-size="12" text-anchor="middle">18</text>
<text transform="translate(444.7 596.2) scale(1.26 1)" font-size="12" text-anchor="middle">20</text>
<text transform="translate(477.4 613.8) scale(1.26 1)" font-size="12" text-anchor="middle">19</text>
<text transform="translate(415.2 736.1) scale(1.26 1)" font-size="12" text-anchor="middle">16</text>
<text transform="translate(447.5 756.9) scale(1.26 1)" font-size="12" text-anchor="middle">22</text>
<text transform="translate(279 700.8) scale(1.26 1)" font-size="12" text-anchor="middle">28</text>
<text transform="translate(269.9 736.7) scale(1.26 1)" font-size="12" text-anchor="middle">29</text>
<text transform="translate(504.9 675.8) scale(1.26 1)" font-size="12" text-anchor="middle">45</text>
<text transform="translate(527.6 701.7) scale(1.26 1)" font-size="12" text-anchor="middle">46</text>
<text transform="translate(545.8 690.8) scale(1.26 1)" font-size="12" text-anchor="middle">47</text>
<text transform="translate(563.5 680.6) scale(1.26 1)" font-size="12" text-anchor="middle">48</text>
<text transform="translate(498.1 785.2) scale(1.26 1)" font-size="12" text-anchor="middle">39</text>
<text transform="translate(521.1 798.5) scale(1.26 1)" font-size="12" text-anchor="middle">38</text>
<text transform="translate(62.5 831.5) scale(1.14 1)" font-size="12" text-anchor="start">5HNR100-D250</text>
<path d="M304 80.7L309.3 98.3" stroke-width="1.32"/>
<path d="M279.3 93.3L281.7 113.3" stroke-width="1.32"/>
<path d="M258.3 106.7L262.3 126" stroke-width="1.32"/>
<path d="M191.7 135L194.7 149.2" stroke-width="1.32"/>
<path d="M201.3 167.5L209.7 175.8" stroke-width="1.32"/>
<path d="M215.8 158.7L222 169.7" stroke-width="1.32"/>
<path d="M231.7 149.7L233.3 161.5" stroke-width="1.32"/>
<path d="M378.3 149.3L373.3 168.3" stroke-width="1.32"/>
<path d="M113.2 171L101.6 195.6" stroke-width="1.32"/>
<path d="M196 241L204 226" stroke-width="1.32"/>
<path d="M389.2 219.5L371.2 231.3" stroke-width="1.32"/>
<path d="M359 263.5L351.5 276.3" stroke-width="1.32"/>
<path d="M305.5 325L318.9 319.7" stroke-width="1.32"/>
<path d="M136.7 269.3L169.3 260" stroke-width="1.32"/>
<path d="M158.3 281.7L180 271.7" stroke-width="1.32"/>
<path d="M166 330L162.7 313.3" stroke-width="1.32"/>
<path d="M215 320L221.7 300" stroke-width="1.32"/>
<path d="M241.7 331.7L251.7 313.3" stroke-width="1.32"/>
<path d="M60 366L66 339.3" stroke-width="1.32"/>
<path d="M89.3 378.3L106.7 361.7" stroke-width="1.32"/>
<path d="M105 388.3L120 371.7" stroke-width="1.32"/>
<path d="M121.7 396.7L137.7 380" stroke-width="1.32"/>
<path d="M145.9 561.3L156.8 549" stroke-width="1.32"/>
<path d="M169 576.3L178.6 558.6" stroke-width="1.32"/>
<path d="M186.7 622L196.3 604.8" stroke-width="1.32"/>
<path d="M278.5 545.8L268.4 569.4" stroke-width="1.32"/>
<path d="M246.6 659.3L261.6 640.2" stroke-width="1.32"/>
<path d="M311.4 667.1L327.1 646.5" stroke-width="1.32"/>
<path d="M344.1 680.4L353.8 665.9" stroke-width="1.32"/>
<path d="M390.3 620.5L398.7 641.7" stroke-width="1.32"/>
<path d="M443.5 597L437 607.8" stroke-width="1.32"/>
<path d="M475 614.4L466.5 627.2" stroke-width="1.32"/>
<path d="M419.3 725.2L430.2 711.9" stroke-width="1.32"/>
<path d="M453.3 745.3L466.6 729.6" stroke-width="1.32"/>
<path d="M507.3 677.5L511.4 692" stroke-width="1.32"/>
<path d="M530.8 702.9L538 713.8" stroke-width="1.32"/>
<path d="M547.7 692L550.9 707.8" stroke-width="1.32"/>
<path d="M563.9 682.4L563.9 699.3" stroke-width="1.32"/>
<path d="M505.4 775L524.7 761" stroke-width="1.32"/>
<path d="M525.2 787.7L539.2 769.5" stroke-width="1.32"/>
</svg>
</body></html>
